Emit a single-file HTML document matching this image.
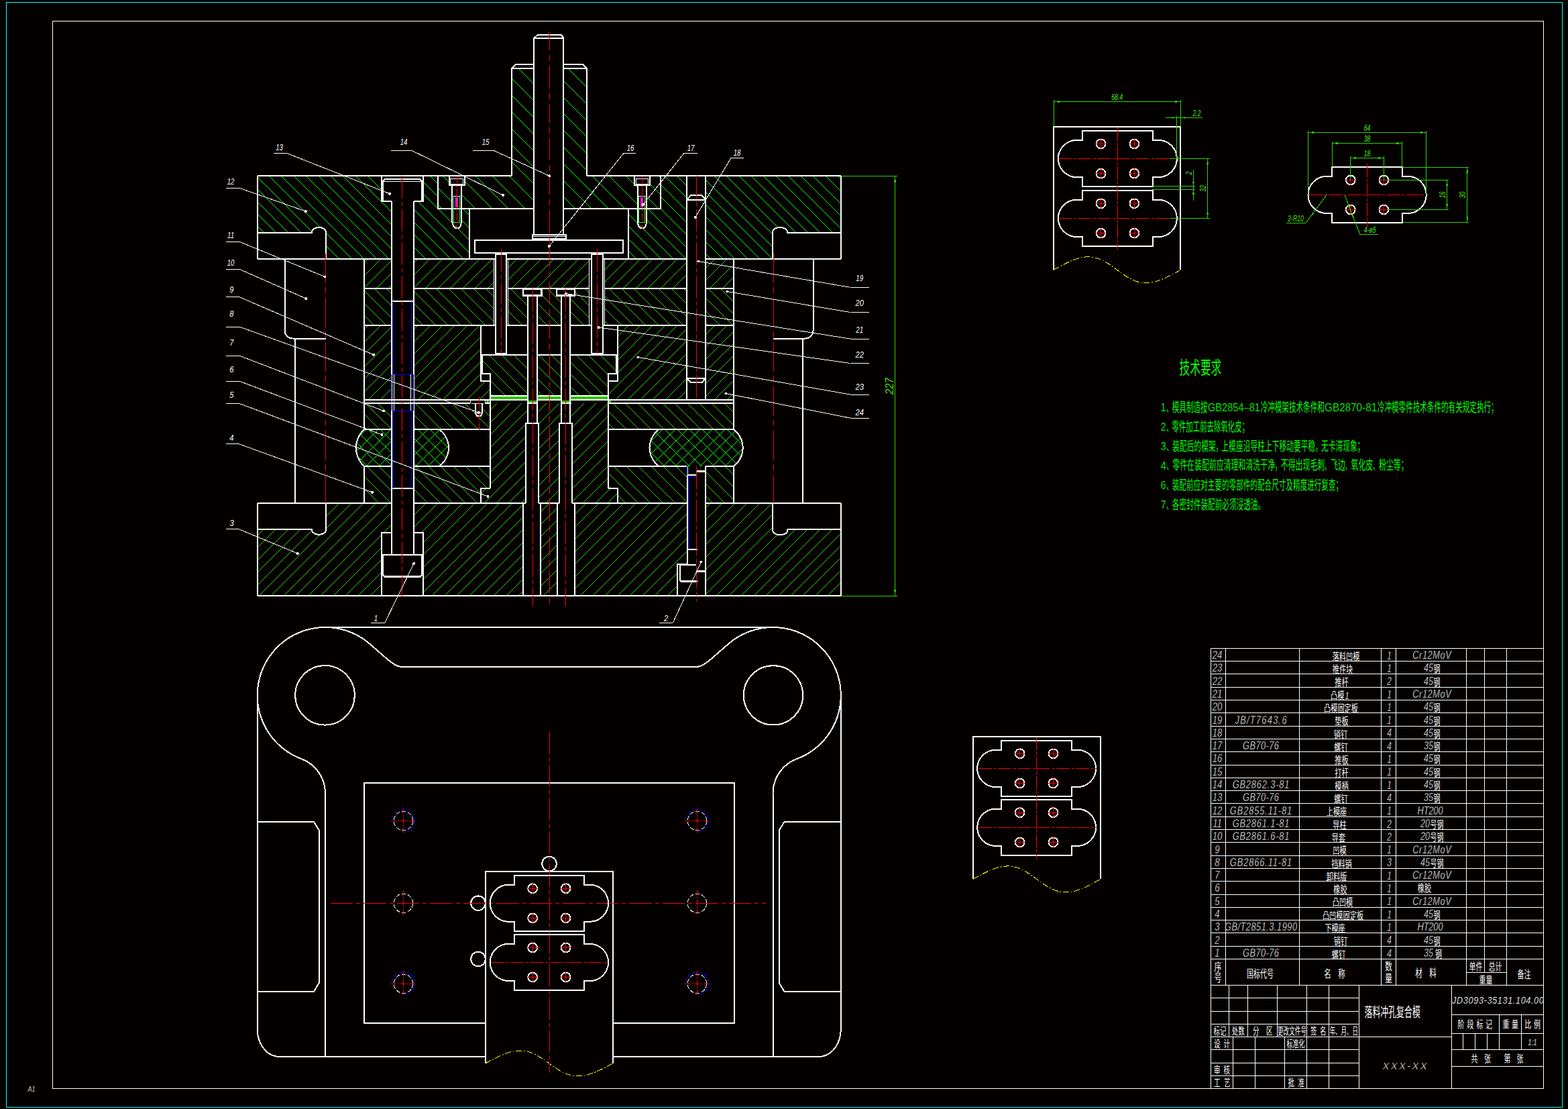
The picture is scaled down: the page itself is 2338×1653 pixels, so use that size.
<!DOCTYPE html>
<html lang="zh"><head><meta charset="utf-8"><title>落料冲孔复合模 装配图</title><style>
html,body{margin:0;padding:0;background:#040000}
svg{display:block}
path,circle{fill:none}
.o{stroke:#fff;stroke-width:2}
.t{stroke:#fff;stroke-width:1}
.p{stroke:#fff;stroke-width:2}
.h{stroke:#35d000;stroke-width:1}
.hg{stroke:#00ff00;stroke-width:1}
.hb{stroke:#00ff00;stroke-width:1}
.g{stroke:#2cff2c;stroke-width:1}
.d{stroke:#35d000;stroke-width:1}
.c{stroke:#ff0000;stroke-width:1}
.b{stroke:#0000ff;stroke-width:1}
.y{stroke:#ffff00;stroke-width:1}
.dot{fill:#fff;stroke:none}
text{font-family:"Liberation Sans","Noto Sans CJK SC",sans-serif;font-style:italic}
.cj{font-style:normal}
.th{stroke:#040000!important;stroke-width:.4px}
.th2{stroke:#040000!important;stroke-width:.2px}
.tx{fill:#fff}
.txg{fill:#44e810}
</style></head>
<body>
<svg xmlns="http://www.w3.org/2000/svg" width="2338" height="1653" viewBox="0 0 2338 1653" shape-rendering="crispEdges">
<rect width="2338" height="1653" fill="#040000"/>
<path d="M9.5 3.5H2329.5V1650.5H9.5Z" style="stroke:#00ffff;stroke-width:1"/>
<path d="M78.5 31.5H2301.5V1622.5H78.5Z" style="stroke:#fff;stroke-width:1"/>
<path class="hg" d="M384 337L394 347M384 319L412 347M384 301L430 347M384 282L449 347M486 384L488 386M384 264L465.28 345.28M486 366L506 386M401.3 262.3L478.27 339.27M486 347L525 386M419.3 262.3L543 386M438.3 262.3L562 386M456.3 262.3L580 386M475.3 262.3L583.75 370.75M493.3 262.3L583.75 352.75M511.3 262.3L583.75 334.75M530.3 262.3L583.75 315.75M548.3 262.3L568.75 282.75M567.3 262.3L568.75 263.75"/>
<path class="hg" d="M616.5 367.5L635 386M616.5 348.5L654 386M616.5 330.5L672 386M616.5 311.5L691 386M623 300L699.7 376.7M630.75 288.75L652.9 310.9M653.1 311.1L674.3 332.3M678 336L699.7 357.7M630.75 270.75L652.9 292.9M671.1 311.1L674.3 314.3M687.9 327.9L699.7 339.7M641.3 262.3L652.9 273.9M690.1 311.1L699.7 320.7"/>
<path class="hg" d="M937 374L949 386M937 356L967 386M937 337L986 386M937 319L950.6 332.6M954 336L1004 386M948.1 311.1L950.6 313.6M964.2 327.2L1023 386M966.1 311.1L1024.25 369.25M985.1 311.1L1024.25 350.25M985.2 293.2L1024.25 332.25M985.2 275.2L1024.25 314.25M991.3 262.3L1024.25 295.25M1009.3 262.3L1024.25 277.25"/>
<path class="hg" d="M1052 378L1060 386M1052 360L1078 386M1052 342L1096 386M1052 323L1115 386M1052 305L1133 386M1052 286L1152 386M1052 268L1152 368M1065.3 262.3L1152 349M1083.3 262.3L1160.25 339.25M1102.3 262.3L1187 347M1120.3 262.3L1205 347M1138.3 262.3L1223 347M1157.3 262.3L1242 347M1175.3 262.3L1253.75 340.75M1194.3 262.3L1253.75 321.75M1212.3 262.3L1253.75 303.75M1231.3 262.3L1253.75 284.75M1249.3 262.3L1253.75 266.75"/>
<path class="hg" d="M652.9 304.9L659.1 311.1M652.9 279.9L674.3 301.3M660.3 262.3L669.9 271.9M687.9 289.9L709.1 311.1M692.6 269.6L734.1 311.1M709.3 262.3L758.1 311.1M734.3 262.3L783.1 311.1M759.3 262.3L796 299M763 241L796 274M763 216L796 249M763 192L796 225M763 167L796 200M763 142L796 175M763 117L796 150M772.8 101.8L796 125"/>
<path class="hg" d="M840.3 293.3L858.1 311.1M840.3 269.3L882.1 311.1M840.3 244.3L907.1 311.1M840.3 219.3L874.6 253.6M883.3 262.3L932.1 311.1M840.3 194.3L874.6 228.6M908.3 262.3L950.6 304.6M840.3 169.3L874.6 203.6M933.3 262.3L946 275M947.2 276.2L950.6 279.6M964.2 293.2L982.1 311.1M840.3 145.3L874.6 179.6M968.8 273.8L985.2 290.2M840.3 120.3L874.6 154.6M982.3 262.3L985.2 265.2M846.8 101.8L874.6 129.6M871.8 101.8L874.6 104.6"/>
<path class="h" d="M543 392L549 386M543 411L568 386M543 429L583.75 388.25M561 430L583.75 407.25M579 430L583.75 425.25M616.5 392.5L623 386M616.5 410.5L641 386M616.5 429.5L660 386M634 430L678 386M653 430L697 386M671 430L715 386M690 430L734 386M708 430L736.5 401.5M727 430L736.5 420.5M757.1 399.9L771 386M757.1 417.9L789 386M763 430L807 386M782 430L826 386M800 430L844 386M819 430L863 386M837 430L878.1 388.9M856 430L878.1 407.9M874 430L878.1 425.9M901.25 402.75L918 386M901.25 420.75L936 386M911 430L955 386M929 430L973 386M948 430L992 386M966 430L1010 386M985 430L1024.25 390.75M1003 430L1024.25 408.75M1022 430L1024.25 427.75M1052 400L1066 386M1052 418L1084 386M1058 430L1094.25 393.75M1077 430L1094.25 412.75"/>
<path class="h" d="M543 470L558 485M543 452L576 485M543 433L583.75 473.75M558 430L583.75 455.75M576 430L583.75 437.75M616.5 470.5L631 485M616.5 451.5L650 485M616.5 433.5L668 485M632 430L687 485M650 430L705 485M669 430L724 485M687 430L736.5 479.5M706 430L736.5 460.5M757.1 481.1L761 485M724 430L736.5 442.5M757.1 463.1L779 485M757.1 445.1L786.9 474.9M761 430L786.9 455.9M800.9 469.9L816 485M800.9 451.9L834 485M808.1 440.1L836.9 468.9M850 482L853 485M816 430L836.9 450.9M850 464L871 485M850 445L878.1 473.1M857.5 434.5L878.1 455.1M901.25 478.25L908 485M872 430L878.1 436.1M901.25 459.25L927 485M901.25 441.25L945 485M908 430L963 485M927 430L982 485M945 430L1000 485M964 430L1019 485M982 430L1024.25 472.25M1001 430L1024.25 453.25M1052 481L1056 485M1019 430L1024.25 435.25M1052 463L1074 485M1052 444L1093 485M1056 430L1094.25 468.25M1074 430L1094.25 450.25M1093 430L1094.25 431.25"/>
<path class="h" d="M543 491L549 485M543 510L568 485M543 528L583.75 487.25M543 547L583.75 506.25M543 565L583.75 524.25M616.5 491.5L623 485M543 584L583.75 543.25M616.5 510.5L642 485M549 596L583.75 561.25M616.5 528.5L660 485M567 596L583.75 579.25M616.5 546.5L678 485M616.5 565.5L697 485M616.5 583.5L715 485M623 596L717 502M641 596L717 520M660 596L717 539M678 596L717 557M696 596L723.6 568.4M715 596L731.25 579.75"/>
<path class="h" d="M921.25 500.75L937 485M921.25 518.75L955 485M921.25 536.75L973 485M906.9 570.1L908.6 568.4M921.25 555.75L992 485M906.9 588.1L1010 485M918 596L1024.25 489.75M936 596L1024.25 507.75M955 596L1024.25 526.75M1052 499L1066 485M973 596L1024.25 544.75M1052 517L1084 485M992 596L1024.25 563.75M1052 536L1094.25 493.75M1010 596L1024.25 581.75M1052 554L1094.25 511.75M1052 572L1094.25 529.75M1052 591L1094.25 548.75M1065 596L1094.25 566.75M1084 596L1094.25 585.75"/>
<path class="h" d="M731.25 586.25L735 590M718.75 554.75L721 557M731.25 567.25L754 590M718.75 536.75L772 590M728.75 528.75L786.9 586.9M747.75 528.75L786.9 567.9M800.9 581.9L809 590M765.75 528.75L786.9 549.9M800.9 563.9L827 590M784.75 528.75L786.9 530.9M800.9 544.9L836.9 580.9M802.75 528.75L836.9 562.9M850 576L864 590M821.75 528.75L836.9 543.9M850 557L883 590M850 539L901 590M858.75 528.75L906.9 576.9M876.75 528.75L906.9 558.9M894.75 528.75L918.75 552.75M913.75 528.75L918.75 533.75"/>
<path class="h" d="M543 636L547 640M543 617L566 640M545 601L583.75 639.75M563 601L583.75 621.75M582 601L583.75 602.75M616.5 635.5L621 640M616.5 617.5L639 640M619 601L658 640M637 601L676 640M656 601L695 640M674 601L713 640M693 601L708.75 616.75M710 618L731.25 639.25M719.4 609.4L731.25 621.25M729 601L731.25 603.25"/>
<path class="h" d="M906.9 630.9L916 640M906.9 612.9L934 640M914 601L953 640M932 601L971 640M951 601L990 640M969 601L1008 640M988 601L1027 640M1006 601L1045 640M1025 601L1064 640M1043 601L1082 640M1061 601L1094.25 634.25M1080 601L1094.25 615.25"/>
<path class="hb" d="M534.86 651.14L546 640M531.42 672.58L564 640M536.36 686.64L583 640M546 695L583.75 657.25M565 695L583.75 676.25M616.5 643.5L620 640M583 695L583.75 694.25M616.5 661.5L638 640M616.5 679.5L655.53 640.47M620 695L664.39 650.61M638 695L668.7 664.3"/>
<path class="hb" d="M533.31 680.31L548 695M531.88 659.88L567 695M537.15 647.15L583.75 693.75M549 640L583.75 674.75M567 640L583.75 656.75M616.5 689.5L622 695M616.5 670.5L641 695M616.5 652.5L657.12 693.12M623 640L665.4 682.4M641 640L668.96 667.96"/>
<path class="hb" d="M970.02 657.98L988 640M970.01 676.99L1007 640M976.19 688.81L1025 640M989 695L1044 640M1007 695L1062 640M1026 695L1081 640M1044 695L1096.54 642.46M1062 695L1104.23 652.77M1081 695L1107.67 668.33"/>
<path class="hb" d="M969.02 673.02L991 695M970.46 656.46L1009 695M977.5 644.5L1028 695M991 640L1046 695M1010 640L1065 695M1028 640L1083 695M1047 640L1098.13 691.13M1065 640L1105.25 680.25M1084 640L1107.36 663.36"/>
<path class="h" d="M543 747L546 750M543 728L565 750M543 710L583 750M547 695L583.75 731.75M565 695L583.75 713.75M616.5 746.5L620 750M583 695L583.75 695.75M616.5 728.5L638 750M616.5 709.5L657 750M620 695L675 750M639 695L694 750M657 695L712 750M676 695L717 736M694 695L726.5 727.5M712 695L731.25 714.25"/>
<path class="h" d="M906.9 723.9L910.5 727.5M921.25 738.25L933 750M906.9 704.9L952 750M915 695L970 750M934 695L989 750M952 695L1007 750M971 695L1024.25 748.25M989 695L1024.25 730.25M1008 695L1024.25 711.25M1052 739L1063 750M1052 721L1081 750M1052 703L1094.25 745.25M1063 695L1094.25 726.25M1081 695L1094.25 708.25"/>
<path class="h" d="M731.25 610.75L741 601M731.25 629.75L760 601M731.25 647.75L778 601M731.25 666.75L786.9 611.1M731.25 684.75L783.75 632.25M785.4 630.6L786.9 629.1M800.9 615.1L815 601M731.25 703.75L783.75 651.25M803.1 631.9L834 601M717 736L725.5 727.5M731.25 721.75L783.75 669.25M803.1 649.9L836.9 616.1M850 603L852 601M722 750L783.75 688.25M803.1 668.9L833.75 638.25M850 622L871 601M740 750L783.75 706.25M803.1 686.9L833.75 656.25M853.1 636.9L889 601M758 750L783.75 724.25M803.1 704.9L833.75 674.25M853.1 654.9L906.9 601.1M777 750L783.75 743.25M803.1 723.9L833.75 693.25M853.1 673.9L906.9 620.1M803.1 741.9L833.75 711.25M853.1 691.9L906.9 638.1M814 750L833.75 730.25M853.1 710.9L906.9 657.1M832 750L833.75 748.25M853.1 728.9L906.9 675.1M853.1 747.9L906.9 694.1M869 750L906.9 712.1M888 750L910.5 727.5M906 750L921.25 734.75"/>
<path class="h" d="M384 798L393.25 788.75M384 816L411.25 788.75M384 835L430.25 788.75M384 853L448.25 788.75M486 751L487 750M384 872L465.32 790.68M486 770L506 750M386 888L477.44 796.56M486 788L524 750M404 888L542 750M423 888L561 750M441 888L579 750M460 888L583.75 764.25M478 888L568.75 797.25M572.25 793.75L583.75 782.25M497 888L568.75 816.25M616.5 768.5L635 750M515 888L568.75 834.25M616.5 786.5L653 750M534 888L568.75 853.25M628.25 793.75L672 750M552 888L568.75 871.25M630.75 809.25L690 750M630.75 827.25L708 750M630.75 846.25L727 750M630.75 864.25L745 750M630.75 883.25L764 750M644 888L780 752M663 888L780 771M681 888L780 789M806.25 762.75L819 750M700 888L780 808M806.25 781.75L830.75 757.25M718 888L780 826M806.25 799.75L830.75 775.25M736 888L780 844M806.25 817.75L830.75 793.25M856.75 767.25L874 750M755 888L780 863M806.25 836.75L830.75 812.25M856.75 786.25L893 750M773 888L780 881M806.25 854.75L830.75 830.25M856.75 804.25L911 750M806.25 873.75L830.75 849.25M856.75 823.25L930 750M810 888L830.75 867.25M856.75 841.25L948 750M829 888L830.75 886.25M856.75 860.25L967 750M856.75 878.25L985 750M865 888L1003 750M884 888L1022 750M902 888L1024.25 765.75M921 888L1024.25 784.75M1052 757L1059 750M939 888L1024.25 802.75M1052 775L1077 750M958 888L1024.25 821.75M1052 794L1096 750M976 888L1010 854M1023.25 840.75L1024.25 839.75M1052 812L1114 750M995 888L1010 873M1052 831L1133 750M1052 849L1151 750M1052 867L1152 767M1052 886L1152 786M1068 888L1159.23 796.77M1087 888L1185.75 789.25M1105 888L1203.75 789.25M1124 888L1222.75 789.25M1142 888L1240.75 789.25M1161 888L1253.75 795.25M1179 888L1253.75 813.25M1197 888L1253.75 831.25M1216 888L1253.75 850.25M1234 888L1253.75 868.25M1253 888L1253.75 887.25"/>
<rect x="731.8" y="590.9" width="54.2" height="3.8" fill="#2fc400"/>
<rect x="801.8" y="590.9" width="34.2" height="3.8" fill="#2fc400"/>
<rect x="851" y="590.9" width="55" height="3.8" fill="#2fc400"/>
<rect x="788" y="597" width="12" height="2.7" fill="#2fc400"/>
<rect x="838" y="597" width="11" height="2.7" fill="#2fc400"/>
<rect x="725" y="597" width="3.8" height="2.7" fill="#2fc400"/><rect x="908.2" y="597" width="2.6" height="2.7" fill="#2fc400"/>
<path class="o" d="M384 262.3L763 262.3"/>
<path class="o" d="M874.6 262.3L1253.75 262.3"/>
<path class="o" d="M384 262.3L384 386"/>
<path class="o" d="M1253.75 262.3L1253.75 386"/>
<path class="o" d="M384 347L465 347L465.51 343.87L467.01 341.77L469.33 340.25L472.26 339.31L475.5 339L478.74 339.31L481.67 340.25L483.99 341.77L485.49 343.87L486 347L486 386"/>
<path class="o" d="M1253.75 347L1174 347L1173.46 343.87L1171.9 341.77L1169.47 340.25L1166.4 339.31L1163 339L1159.6 339.31L1156.53 340.25L1154.1 341.77L1152.54 343.87L1152 347L1152 386"/>
<path class="o" d="M384 386L583.75 386"/>
<path class="o" d="M616.5 386L739.1 386"/>
<path class="o" d="M755 386L881.9 386"/>
<path class="o" d="M898.75 386L1024.25 386"/>
<path class="o" d="M1052 386L1253.75 386"/>
<path class="o" d="M568.75 262.3L568.75 300L583.75 300"/>
<path class="o" d="M630.75 262.3L630.75 300L616.5 300"/>
<path class="o" d="M571.2 300L571.2 270L574.2 267L625.8 267L628.8 270L628.8 300"/>
<path class="t" d="M571.2 270L628.8 270"/>
<path class="o" d="M583.75 300L583.75 827"/>
<path class="o" d="M616.5 300L616.5 827"/>
<path class="o" d="M583.75 448.75L616.5 448.75"/>
<path class="o" d="M583.75 727.5L616.5 727.5"/>
<path class="b" d="M585.6 448.75L585.6 558"/>
<path class="b" d="M585.6 612L585.6 727.5"/>
<path class="b" d="M613.9 448.75L613.9 558"/>
<path class="b" d="M613.9 612L613.9 727.5"/>
<path class="b" d="M583.75 558L583.75 612"/>
<path class="b" d="M616.5 558L616.5 612"/>
<path class="b" d="M585 558L614.5 558"/>
<path class="b" d="M585 612L614.5 612"/>
<path class="t" d="M587 558L587 612"/>
<path class="t" d="M612.6 558L612.6 612"/>
<path class="o" d="M583.75 793.75L568.75 793.75L568.75 888"/>
<path class="o" d="M616.5 793.75L630.75 793.75L630.75 888"/>
<path class="o" d="M571.2 827L571.2 857L574.2 860L625.8 860L628.8 857L628.8 827Z"/>
<path class="t" d="M572 858.6L628 858.6"/>
<path class="o" d="M763 262.3L763 101.8L768.8 96L796 96"/>
<path class="o" d="M763 101.8L796 101.8"/>
<path class="o" d="M874.6 262.3L874.6 101.8L869.4 96L840.3 96"/>
<path class="o" d="M840.3 101.8L874.6 101.8"/>
<path class="o" d="M796 349.75L796 57L801.8 52L837 52L840.3 57L840.3 349.75"/>
<path class="o" d="M796 57L840.3 57"/>
<path class="o" d="M793.75 349.75L844 349.75L844 355.8L793.75 355.8Z"/>
<path class="t" d="M793.75 352.2L844 352.2"/>
<path class="o" d="M707.9 358.4L929.4 358.4L929.4 376.9L707.9 376.9Z"/>
<path class="o" d="M652.9 262.3L652.9 311.1L796 311.1"/>
<path class="o" d="M985.2 262.3L985.2 311.1L840.3 311.1"/>
<path class="o" d="M699.7 311.1L699.7 386"/>
<path class="o" d="M937 311.1L937 386"/>
<path class="o" d="M669.9 262.3L692.7 262.3L692.7 276.2L669.9 276.2Z"/>
<path class="t" d="M671.9 266L690.7 266L690.7 274.8L671.9 274.8Z"/>
<path class="o" d="M674.4 276.2L674.4 331L676.3 337.5L678.8 340L683.8 340L686.3 337.5L688.2 331L688.2 276.2"/>
<path class="g" d="M676.7 292.7L676.7 331"/>
<path class="g" d="M685.7 292.7L685.7 331"/>
<path class="g" d="M676.3 331.5L686.3 331.5"/>
<path class="t" d="M676.3 292.7L686.3 292.7"/>
<rect x="679.1" y="293.5" width="3.6" height="15" fill="#ff18ff"/>
<path class="c" stroke-dasharray="12 2 2 2" d="M681.3 262.5L681.3 341"/>
<path class="o" d="M946 262.3L968.8 262.3L968.8 276.2L946 276.2Z"/>
<path class="t" d="M948 266L966.8 266L966.8 274.8L948 274.8Z"/>
<path class="o" d="M950.5 276.2L950.5 331L952.4 337.5L954.9 340L959.9 340L962.4 337.5L964.3 331L964.3 276.2"/>
<path class="g" d="M952.8 292.7L952.8 331"/>
<path class="g" d="M961.8 292.7L961.8 331"/>
<path class="g" d="M952.4 331.5L962.4 331.5"/>
<path class="t" d="M952.4 292.7L962.4 292.7"/>
<rect x="955.2" y="293.5" width="3.6" height="15" fill="#ff18ff"/>
<path class="c" stroke-dasharray="12 2 2 2" d="M957.4 262.5L957.4 341"/>
<path class="o" d="M543 386L543 640"/>
<path class="o" d="M543 695L543 750"/>
<path class="o" d="M1094.25 386L1094.25 640"/>
<path class="o" d="M1094.25 695L1094.25 750"/>
<path class="o" d="M543 430L583.75 430"/>
<path class="o" d="M616.5 430L736.5 430"/>
<path class="o" d="M757.1 430L878.1 430"/>
<path class="o" d="M901.25 430L1024.25 430"/>
<path class="o" d="M1052 430L1094.25 430"/>
<path class="o" d="M543 485L583.75 485"/>
<path class="o" d="M616.5 485L739.1 485"/>
<path class="o" d="M755 485L786.9 485"/>
<path class="o" d="M800.9 485L836.9 485"/>
<path class="o" d="M850 485L881.9 485"/>
<path class="o" d="M898.75 485L1024.25 485"/>
<path class="o" d="M1052 485L1094.25 485"/>
<path class="t" d="M736.5 386L736.5 485"/>
<path class="t" d="M757.1 386L757.1 485"/>
<path class="o" d="M739.1 377L739.1 527"/>
<path class="o" d="M755 377L755 527"/>
<path class="o" style="stroke-width:2.6" d="M737.9 378.6H756.2 M737.9 527H756.2"/>
<path class="t" d="M878.1 386L878.1 485"/>
<path class="t" d="M901.25 386L901.25 485"/>
<path class="o" d="M881.9 377L881.9 527"/>
<path class="o" d="M898.75 377L898.75 527"/>
<path class="o" style="stroke-width:2.6" d="M880.7 378.6H899.95 M880.7 527H899.95"/>
<path class="o" style="stroke-width:2.4" d="M780 430.6H807.5V440.6H780Z"/>
<path class="o" d="M786.9 440.6L786.9 630.6"/>
<path class="o" d="M800.9 440.6L800.9 630.6"/>
<path class="o" d="M786.4 600.8L802.4 600.8"/>
<path class="o" d="M783.75 750L783.75 630.6L803.1 630.6L803.1 750"/>
<path class="o" d="M780 750L780 888"/>
<path class="o" d="M806.25 750L806.25 888"/>
<path class="o" style="stroke-width:2.4" d="M830.2 430.6H856.9V440.6H830.2Z"/>
<path class="o" d="M836.9 440.6L836.9 630.6"/>
<path class="o" d="M850 440.6L850 630.6"/>
<path class="o" d="M836.4 600.8L851.5 600.8"/>
<path class="o" d="M833.75 750L833.75 630.6L853.1 630.6L853.1 750"/>
<path class="o" d="M830.75 750L830.75 888"/>
<path class="o" d="M856.75 750L856.75 888"/>
<path class="o" d="M717 485L717 568.4L731.25 568.4"/>
<path class="o" d="M921.25 485L921.25 568.4L906.9 568.4"/>
<path class="o" d="M731.25 590L731.25 557L718.75 557L718.75 528.75L786.9 528.75"/>
<path class="o" d="M906.9 590L906.9 557L918.75 557L918.75 528.75L850 528.75"/>
<path class="o" d="M800.9 528.75L836.9 528.75"/>
<path class="o" d="M731.25 590L786.9 590"/>
<path class="o" d="M800.9 590L836.9 590"/>
<path class="o" d="M850 590L906.9 590"/>
<path class="t" d="M717 557L731.25 557"/>
<path class="t" d="M906.9 557L921.25 557"/>
<path class="o" d="M731.25 568.4L731.25 727.5"/>
<path class="o" d="M906.9 568.4L906.9 727.5"/>
<path class="o" d="M731.25 727.5L717 727.5L717 750"/>
<path class="o" d="M906.9 727.5L921.25 727.5L921.25 750"/>
<path class="o" d="M543 596L786.9 596"/>
<path class="o" d="M800.9 596L836.9 596"/>
<path class="o" d="M850 596L1094.25 596"/>
<path class="o" d="M543 601L701 601"/>
<path class="o" d="M723 601L731.25 601"/>
<path class="o" d="M908 601L1094.25 601"/>
<path class="t" d="M701 596L701 601"/>
<path class="t" d="M723 596L723 601"/>
<path class="t" d="M703 601L721 601"/>
<path class="o" d="M543 640L583.75 640"/>
<path class="o" d="M616.5 640L731.25 640"/>
<path class="o" d="M906.9 640L1094.25 640"/>
<path class="o" d="M543 695L583.75 695"/>
<path class="o" d="M616.5 695L731.25 695"/>
<path class="o" d="M906.9 695L1024.25 695"/>
<path class="o" d="M1052 695L1094.25 695"/>
<path class="o" d="M543 695L538.84 690.45L535.48 685.28L533.01 679.63L531.51 673.65L531 667.5L531.51 661.35L533.01 655.37L535.48 649.72L538.84 644.55L543 640"/>
<path class="o" d="M655 640L659.8 644.23L663.71 649.29L666.62 654.99L668.4 661.13L669 667.5L668.4 673.87L666.62 680.01L663.71 685.71L659.8 690.77L655 695"/>
<path class="o" d="M982.5 695L977.7 690.77L973.79 685.71L970.88 680.01L969.1 673.87L968.5 667.5L969.1 661.13L970.88 654.99L973.79 649.29L977.7 644.23L982.5 640"/>
<path class="o" d="M1093.75 640L1098.55 644.23L1102.46 649.29L1105.37 654.99L1107.15 661.13L1107.75 667.5L1107.15 673.87L1105.37 680.01L1102.46 685.71L1098.55 690.77L1093.75 695"/>
<path class="o" d="M708.75 601L708.75 615.5L711 619.5L717 619.5L719.4 615.5L719.4 601"/>
<path class="t" d="M708.75 615.5L719.4 615.5"/>
<path class="c" stroke-dasharray="14 2 2 2" d="M714.2 591L714.2 640.6"/>
<path class="o" d="M384 750L583.75 750"/>
<path class="o" d="M616.5 750L783.75 750"/>
<path class="o" d="M803.1 750L833.75 750"/>
<path class="o" d="M853.1 750L1024.25 750"/>
<path class="o" d="M1052 750L1253.75 750"/>
<path class="o" d="M384 750L384 888"/>
<path class="o" d="M1253.75 750L1253.75 888"/>
<path class="o" d="M384 888L1253.75 888"/>
<path class="o" d="M384 788.75L465 788.75L465.51 791.88L467.01 793.98L469.33 795.5L472.26 796.44L475.5 796.75L478.74 796.44L481.67 795.5L483.99 793.98L485.49 791.88L486 788.75L486 750"/>
<path class="o" d="M1253.75 789.25L1174.5 789.25L1173.95 792.38L1172.35 794.48L1169.86 796L1166.73 796.94L1163.25 797.25L1159.77 796.94L1156.64 796L1154.15 794.48L1152.55 792.38L1152 789.25L1152 750"/>
<path class="o" d="M424.5 386V492.5A12 12 0 0 0 436.5 504.5H486.3"/>
<path class="o" d="M440 504.5L440 750"/>
<path class="o" d="M1212.5 386V492.5A12 12 0 0 1 1200.5 504.5H1153.2"/>
<path class="o" d="M1196.75 504.5L1196.75 750"/>
<path class="o" d="M1024.25 262.3L1024.25 596"/>
<path class="o" d="M1052 262.3L1052 596"/>
<path class="o" d="M1024.25 297.5L1030 291.3L1046.3 291.3L1052 297.5"/>
<path class="o" d="M1024.25 297.5L1052 297.5"/>
<path class="o" d="M1024.25 563.75L1029.5 570L1046.8 570L1052 563.75"/>
<path class="o" d="M1024.25 563.75L1052 563.75"/>
<path class="o" d="M1024.5 695L1024.5 840.75"/>
<path class="o" d="M1052 695L1052 888"/>
<path class="b" d="M1026.3 710L1026.3 817.5"/>
<path class="b" d="M1024.5 710.3L1038.3 710.3"/>
<path class="b" d="M1024.5 695L1024.5 708"/>
<path class="o" d="M1024.5 707.5L1038.3 707.5"/>
<path class="o" d="M1024.5 819.3L1039.5 819.3"/>
<path class="o" d="M1024.5 840.75L1010 840.75L1010 888"/>
<path class="o" d="M1038.3 841.5L1013.8 841.5L1013.8 864.5L1016.5 867.2L1039.5 867.2"/>
<path class="o" style="stroke-width:2.8" d="M1016 866.8H1039.5M1038.3 702.5H1052M1038.3 851.3H1052"/>
<path class="c" stroke-dasharray="33.5 5 6 5" d="M599.6 262L599.6 894"/>
<path class="c" stroke-dasharray="44 6.5 9 6.5" d="M485.5 377.5L485.5 750"/>
<path class="c" stroke-dasharray="44 6.5 9 6.5" d="M1153.25 377.5L1153.25 750"/>
<path class="c" stroke-dasharray="28 7 9 7 33.5 7 9 7" d="M819.4 47L819.4 904"/>
<path class="c" stroke-dasharray="33.5 5 6 5" d="M794.4 430L794.4 904"/>
<path class="c" stroke-dasharray="33.5 5 6 5" d="M843.5 430L843.5 904"/>
<path class="c" stroke-dasharray="33.5 5 6 5" d="M747.5 371L747.5 527"/>
<path class="c" stroke-dasharray="33.5 5 6 5" d="M890.6 371L890.6 527"/>
<path class="c" stroke-dasharray="33.5 5 6 5" d="M1038.25 262L1038.25 596"/>
<path class="c" stroke-dasharray="33.5 5 6 5" d="M1038.25 695L1038.25 896.5"/>
<text class="tx" font-size="13" text-anchor="middle" transform="translate(416.5 223.8) scale(.74 1)">13</text>
<path class="t" d="M408 228.3L427.5 228.3"/>
<path class="t" d="M427.5 228.3L581 288.8"/>
<circle class="dot" cx="581" cy="288.8" r="2"/>
<text class="tx" font-size="13" text-anchor="middle" transform="translate(602 216) scale(.74 1)">14</text>
<path class="t" d="M583 224.3L613.8 224.3"/>
<path class="t" d="M613.8 224.3L750 290.8"/>
<circle class="dot" cx="750" cy="290.8" r="2"/>
<text class="tx" font-size="13" text-anchor="middle" transform="translate(724 216) scale(.74 1)">15</text>
<path class="t" d="M705 224.3L736 224.3"/>
<path class="t" d="M736 224.3L819.2 262.2"/>
<circle class="dot" cx="819.2" cy="262.2" r="2"/>
<text class="tx" font-size="13" text-anchor="middle" transform="translate(940 224.5) scale(.74 1)">16</text>
<path class="t" d="M930 228.3L947.5 228.3"/>
<path class="t" d="M930 228.3L818.8 367"/>
<circle class="dot" cx="818.8" cy="367" r="2"/>
<text class="tx" font-size="13" text-anchor="middle" transform="translate(1030 224.5) scale(.74 1)">17</text>
<path class="t" d="M1020 228.3L1040 228.3"/>
<path class="t" d="M1020 228.3L958.8 305"/>
<circle class="dot" cx="958.8" cy="305" r="2"/>
<text class="tx" font-size="13" text-anchor="middle" transform="translate(1099 231.5) scale(.74 1)">18</text>
<path class="t" d="M1090 235.5L1108.8 235.5"/>
<path class="t" d="M1090 235.5L1036.8 323.8"/>
<circle class="dot" cx="1036.8" cy="323.8" r="2"/>
<text class="tx" font-size="13" text-anchor="middle" transform="translate(344 274.8) scale(.74 1)">12</text>
<path class="t" d="M337 280.3L357 280.3"/>
<path class="t" d="M357 280.3L455.8 315"/>
<circle class="dot" cx="455.8" cy="315" r="2"/>
<text class="tx" font-size="13" text-anchor="middle" transform="translate(344 354.8) scale(.74 1)">11</text>
<path class="t" d="M337 360.3L357 360.3"/>
<path class="t" d="M357 360.3L484.3 412.5"/>
<circle class="dot" cx="484.3" cy="412.5" r="2"/>
<text class="tx" font-size="13" text-anchor="middle" transform="translate(344 395.7) scale(.74 1)">10</text>
<path class="t" d="M337 401.3L357 401.3"/>
<path class="t" d="M357 401.3L456.3 445"/>
<circle class="dot" cx="456.3" cy="445" r="2"/>
<text class="tx" font-size="13" text-anchor="middle" transform="translate(345.3 435.9) scale(.86 1)">9</text>
<path class="t" d="M337 442.5L356.5 442.5"/>
<path class="t" d="M356.5 442.5L557 528.8"/>
<circle class="dot" cx="557" cy="528.8" r="2"/>
<text class="tx" font-size="13" text-anchor="middle" transform="translate(345.3 471.5) scale(.86 1)">8</text>
<path class="t" d="M337 487L356.5 487"/>
<path class="t" d="M356.5 487L713.8 615"/>
<circle class="dot" cx="713.8" cy="615" r="2"/>
<text class="tx" font-size="13" text-anchor="middle" transform="translate(345.3 515.4) scale(.86 1)">7</text>
<path class="t" d="M337 530L356.5 530"/>
<path class="t" d="M356.5 530L572 612.5"/>
<circle class="dot" cx="572" cy="612.5" r="2"/>
<text class="tx" font-size="13" text-anchor="middle" transform="translate(345.3 554.5) scale(.86 1)">6</text>
<path class="t" d="M337 568L356.5 568"/>
<path class="t" d="M356.5 568L569.5 648"/>
<circle class="dot" cx="569.5" cy="648" r="2"/>
<text class="tx" font-size="13" text-anchor="middle" transform="translate(345.3 593.4) scale(.86 1)">5</text>
<path class="t" d="M337 601.3L356.5 601.3"/>
<path class="t" d="M356.5 601.3L727.5 740"/>
<circle class="dot" cx="727.5" cy="740" r="2"/>
<text class="tx" font-size="13" text-anchor="middle" transform="translate(345.3 656.8) scale(.86 1)">4</text>
<path class="t" d="M337 661.8L356.5 661.8"/>
<path class="t" d="M356.5 661.8L555 733.8"/>
<circle class="dot" cx="555" cy="733.8" r="2"/>
<text class="tx" font-size="13" text-anchor="middle" transform="translate(345.5 783.6) scale(.86 1)">3</text>
<path class="t" d="M337 788.8L356.3 788.8"/>
<path class="t" d="M356.3 788.8L443.8 825"/>
<circle class="dot" cx="443.8" cy="825" r="2"/>
<text class="tx" font-size="13" text-anchor="middle" transform="translate(560.5 926) scale(.74 1)">1</text>
<path class="t" d="M553.3 928.3L573.8 928.3"/>
<path class="t" d="M573.8 928.3L617 840"/>
<circle class="dot" cx="617" cy="840" r="2"/>
<text class="tx" font-size="13" text-anchor="middle" transform="translate(993 926) scale(.86 1)">2</text>
<path class="t" d="M983.3 928.3L1003.3 928.3"/>
<path class="t" d="M1003.3 928.3L1045.5 837.5"/>
<circle class="dot" cx="1045.5" cy="837.5" r="2"/>
<text class="tx" font-size="13" text-anchor="middle" transform="translate(1281.7 418.5) scale(.74 1)">19</text>
<path class="t" d="M1267.5 428.3L1296.3 428.3"/>
<path class="t" d="M1267.5 428.3L1041.3 389.5"/>
<circle class="dot" cx="1041.3" cy="389.5" r="2"/>
<text class="tx" font-size="13" text-anchor="middle" transform="translate(1281.7 455.7) scale(.86 1)">20</text>
<path class="t" d="M1267.5 465.5L1296.3 465.5"/>
<path class="t" d="M1267.5 465.5L1084.3 434.5"/>
<circle class="dot" cx="1084.3" cy="434.5" r="2"/>
<text class="tx" font-size="13" text-anchor="middle" transform="translate(1281.7 495.8) scale(.74 1)">21</text>
<path class="t" d="M1267.5 505L1296.3 505"/>
<path class="t" d="M1267.5 505L843.8 437.5"/>
<circle class="dot" cx="843.8" cy="437.5" r="2"/>
<text class="tx" font-size="13" text-anchor="middle" transform="translate(1281.7 532.8) scale(.86 1)">22</text>
<path class="t" d="M1267.5 541.5L1296.3 541.5"/>
<path class="t" d="M1267.5 541.5L892.5 488"/>
<circle class="dot" cx="892.5" cy="488" r="2"/>
<text class="tx" font-size="13" text-anchor="middle" transform="translate(1281.7 580.7) scale(.86 1)">23</text>
<path class="t" d="M1267.5 588L1296.3 588"/>
<path class="t" d="M1267.5 588L951.3 532.5"/>
<circle class="dot" cx="951.3" cy="532.5" r="2"/>
<text class="tx" font-size="13" text-anchor="middle" transform="translate(1281.7 618.5) scale(.86 1)">24</text>
<path class="t" d="M1267.5 623L1296.3 623"/>
<path class="t" d="M1267.5 623L1082.5 586.5"/>
<circle class="dot" cx="1082.5" cy="586.5" r="2"/>
<path class="d" d="M1253.75 262.3L1338 262.3"/>
<path class="d" d="M1253.75 888L1338 888"/>
<path class="d" d="M1334.5 262.3L1334.5 888"/>
<path style="fill:#2fc400" d="M1334.5 262.5l-1.6 9h3.2zM1334.5 887.8l-1.6-9h3.2z"/>
<text class="txg" font-size="16.5" text-anchor="middle" transform="translate(1332 575.5) rotate(-90) scale(.9 1)">227</text>
<path class="p" d="M598 993.75L596.21 993.59L594.23 993.1L592.07 992.29L589.73 991.16L587.2 989.71L584.48 987.93L581.58 985.83L578.5 983.4L549.43 958.13L543.62 953.68L537.5 949.66L531.1 946.1L524.46 943L517.61 940.39L510.6 938.29L503.45 936.69L496.2 935.62L488.9 935.08L481.58 935.06L474.27 935.57L467.02 936.61L459.86 938.17L452.84 940.24L445.98 942.82L439.33 945.88L432.91 949.42L426.77 953.41L420.93 957.83L415.43 962.67L410.29 967.89L405.54 973.46L401.21 979.37L397.32 985.57L393.88 992.04L390.92 998.74L388.45 1005.64L386.49 1012.69L385.04 1019.88L384.11 1027.14L383.72 1034.45L383.85 1041.78L384.51 1049.07L385.69 1056.3L387.4 1063.42L389.61 1070.41L392.33 1077.21L395.53 1083.8L399.19 1090.14L403.31 1096.2L407.85 1101.95L412.79 1107.35L418.12 1112.38L423.79 1117.02L429.78 1121.23L436.06 1125L442.6 1128.3L449.36 1131.12L454.52 1133.36L459.35 1136.07L463.88 1139.25L468.07 1142.87L471.87 1146.89L475.24 1151.28L478.16 1155.98L480.59 1160.95L482.5 1166.14L483.89 1171.5L484.72 1176.97L485 1182.5L485 1575"/>
<path class="p" d="M1039.5 993.75L1041.29 993.59L1043.27 993.1L1045.43 992.29L1047.78 991.16L1050.3 989.71L1053.02 987.93L1055.92 985.83L1059 983.4L1088.07 958.13L1093.88 953.68L1100 949.66L1106.4 946.1L1113.04 943L1119.89 940.39L1126.9 938.29L1134.05 936.69L1141.3 935.62L1148.6 935.08L1155.92 935.06L1163.23 935.57L1170.48 936.61L1177.64 938.17L1184.66 940.24L1191.52 942.82L1198.17 945.88L1204.59 949.42L1210.73 953.41L1216.57 957.83L1222.07 962.67L1227.21 967.89L1231.96 973.46L1236.29 979.37L1240.18 985.57L1243.62 992.04L1246.58 998.74L1249.05 1005.64L1251.01 1012.69L1252.46 1019.88L1253.39 1027.14L1253.78 1034.45L1253.65 1041.78L1252.99 1049.07L1251.81 1056.3L1250.1 1063.42L1247.89 1070.41L1245.17 1077.21L1241.97 1083.8L1238.31 1090.14L1234.19 1096.2L1229.65 1101.95L1224.71 1107.35L1219.38 1112.38L1213.71 1117.02L1207.72 1121.23L1201.44 1125L1194.9 1128.3L1188.14 1131.12L1182.98 1133.36L1178.15 1136.07L1173.62 1139.25L1169.43 1142.87L1165.63 1146.89L1162.26 1151.28L1159.34 1155.98L1156.91 1160.95L1155 1166.14L1153.61 1171.5L1152.78 1176.97L1152.5 1182.5L1152.5 1575"/>
<path class="p" d="M598 993.75L1039.5 993.75"/>
<path class="p" d="M485 935L1152.5 935"/>
<path class="p" d="M383.7 1036.3L383.7 1534L384.19 1541.12L385.66 1548.02L388.05 1554.5L391.3 1560.35L395.31 1565.41L399.95 1569.51L405.08 1572.53L410.56 1574.38L416.2 1575L723.75 1575"/>
<path class="p" d="M1253.8 1036.3L1253.8 1534L1253.31 1541.12L1251.84 1548.02L1249.45 1554.5L1246.2 1560.35L1242.19 1565.41L1237.55 1569.51L1232.42 1572.53L1226.94 1574.38L1221.3 1575L913.75 1575"/>
<circle class="p" cx="484.5" cy="1036.3" r="44.3"/>
<circle class="p" cx="1153" cy="1036.3" r="44.2"/>
<path class="p" d="M383.7 1225L468 1225L475.75 1237.5L475.75 1465L468 1478L383.7 1478"/>
<path class="p" d="M1253.8 1225L1169.5 1225L1161.75 1237.5L1161.75 1465L1169.5 1478L1253.8 1478"/>
<path class="p" d="M723.75 1525L543.25 1525L543.25 1167L1094.5 1167L1094.5 1525L913.75 1525"/>
<path class="p" d="M723.75 1585L723.75 1299L913.75 1299L913.75 1585"/>
<path class="y" stroke-dasharray="9 3 1.5 3" d="M723.75 1585L728.5 1582.45L733.25 1579.94L738 1577.5L742.75 1575.18L747.5 1573.01L752.25 1571.04L757 1569.32L761.75 1567.9L766.5 1566.85L771.25 1566.2L776 1566L780.75 1566.3L785.5 1567.1L790.25 1568.43L795 1570.26L799.75 1572.57L804.5 1575.28L809.25 1578.33L814 1581.6L818.75 1585L823.5 1588.4L828.25 1591.67L833 1594.72L837.75 1597.43L842.5 1599.74L847.25 1601.57L852 1602.9L856.75 1603.7L861.5 1604L866.25 1603.8L871 1603.15L875.75 1602.1L880.5 1600.68L885.25 1598.96L890 1596.99L894.75 1594.82L899.5 1592.5L904.25 1590.06L909 1587.55L913.75 1585"/>
<circle class="p" cx="713" cy="1346.25" r="10.8"/>
<circle class="p" cx="713" cy="1429.5" r="10.8"/>
<circle class="p" cx="819" cy="1287.5" r="10.8"/>
<circle class="t" stroke-dasharray="6.5 2.6" cx="601.5" cy="1223.5" r="14.2"/>
<path class="b" stroke-dasharray="6 2.5" d="M584.56 1220.51L585.38 1217.5L586.73 1214.68L588.57 1212.16L590.83 1210.01L593.45 1208.3L596.33 1207.1L599.38 1206.43L602.5 1206.33L605.59 1206.79L608.54 1207.81L611.26 1209.34L613.66 1211.34L615.66 1213.74L617.19 1216.46L618.21 1219.41L618.67 1222.5L618.57 1225.62L617.9 1228.67L616.7 1231.55L614.99 1234.17L612.84 1236.43L610.32 1238.27L607.5 1239.62L604.49 1240.44"/>
<path class="c" stroke-dasharray="8 2 2 2" d="M582.5 1223.5H620.5M601.5 1204.5V1242.5"/>
<circle class="t" stroke-dasharray="6.5 2.6" cx="601.5" cy="1466.25" r="14.2"/>
<path class="b" stroke-dasharray="6 2.5" d="M584.56 1463.26L585.38 1460.25L586.73 1457.43L588.57 1454.91L590.83 1452.76L593.45 1451.05L596.33 1449.85L599.38 1449.18L602.5 1449.08L605.59 1449.54L608.54 1450.56L611.26 1452.09L613.66 1454.09L615.66 1456.49L617.19 1459.21L618.21 1462.16L618.67 1465.25L618.57 1468.37L617.9 1471.42L616.7 1474.3L614.99 1476.92L612.84 1479.18L610.32 1481.02L607.5 1482.37L604.49 1483.19"/>
<path class="c" stroke-dasharray="8 2 2 2" d="M582.5 1466.25H620.5M601.5 1447.25V1485.25"/>
<circle class="t" stroke-dasharray="6.5 2.6" cx="601.5" cy="1346.25" r="14.2"/>
<path class="c" stroke-dasharray="8 2 2 2" d="M601.5 1327.25V1365.25"/>
<circle class="t" stroke-dasharray="6.5 2.6" cx="1039.5" cy="1223.5" r="14.2"/>
<path class="b" stroke-dasharray="6 2.5" d="M1022.56 1220.51L1023.38 1217.5L1024.73 1214.68L1026.57 1212.16L1028.83 1210.01L1031.45 1208.3L1034.33 1207.1L1037.38 1206.43L1040.5 1206.33L1043.59 1206.79L1046.54 1207.81L1049.26 1209.34L1051.66 1211.34L1053.66 1213.74L1055.19 1216.46L1056.21 1219.41L1056.67 1222.5L1056.57 1225.62L1055.9 1228.67L1054.7 1231.55L1052.99 1234.17L1050.84 1236.43L1048.32 1238.27L1045.5 1239.62L1042.49 1240.44"/>
<path class="c" stroke-dasharray="8 2 2 2" d="M1020.5 1223.5H1058.5M1039.5 1204.5V1242.5"/>
<circle class="t" stroke-dasharray="6.5 2.6" cx="1039.5" cy="1466.25" r="14.2"/>
<path class="b" stroke-dasharray="6 2.5" d="M1022.56 1463.26L1023.38 1460.25L1024.73 1457.43L1026.57 1454.91L1028.83 1452.76L1031.45 1451.05L1034.33 1449.85L1037.38 1449.18L1040.5 1449.08L1043.59 1449.54L1046.54 1450.56L1049.26 1452.09L1051.66 1454.09L1053.66 1456.49L1055.19 1459.21L1056.21 1462.16L1056.67 1465.25L1056.57 1468.37L1055.9 1471.42L1054.7 1474.3L1052.99 1476.92L1050.84 1479.18L1048.32 1481.02L1045.5 1482.37L1042.49 1483.19"/>
<path class="c" stroke-dasharray="8 2 2 2" d="M1020.5 1466.25H1058.5M1039.5 1447.25V1485.25"/>
<circle class="t" stroke-dasharray="6.5 2.6" cx="1039.5" cy="1346.25" r="14.2"/>
<path class="c" stroke-dasharray="8 2 2 2" d="M1039.5 1327.25V1365.25"/>
<path class="c" stroke-dasharray="33.5 5 6 5" d="M492.5 1346.25L1142 1346.25"/>
<path class="c" stroke-dasharray="33.5 5 6 5" d="M819.25 1090L819.25 1599"/>
<path class="c" stroke-dasharray="20 2.5 4 2.5" d="M732 1434.5L907 1434.5"/>
<path class="p" d="M766.57 1304.94H871.23V1318.71H879.49A27.54 27.54 0 0 1 879.49 1373.79H871.23V1387.56H766.57V1373.79H758.31A27.54 27.54 0 0 1 758.31 1318.71H766.57Z"/>
<circle class="p" cx="794.11" cy="1324.22" r="6.88"/>
<path class="c" d="M785.58 1324.22H802.65M794.11 1315.68V1332.76"/>
<circle class="p" cx="794.11" cy="1368.28" r="6.88"/>
<path class="c" d="M785.58 1368.28H802.65M794.11 1359.74V1376.82"/>
<circle class="p" cx="843.69" cy="1324.22" r="6.88"/>
<path class="c" d="M835.15 1324.22H852.22M843.69 1315.68V1332.76"/>
<circle class="p" cx="843.69" cy="1368.28" r="6.88"/>
<path class="c" d="M835.15 1368.28H852.22M843.69 1359.74V1376.82"/>
<path class="p" d="M766.57 1393.19H871.23V1406.96H879.49A27.54 27.54 0 0 1 879.49 1462.04H871.23V1475.81H766.57V1462.04H758.31A27.54 27.54 0 0 1 758.31 1406.96H766.57Z"/>
<circle class="p" cx="794.11" cy="1412.47" r="6.88"/>
<path class="c" d="M785.58 1412.47H802.65M794.11 1403.93V1421.01"/>
<circle class="p" cx="794.11" cy="1456.53" r="6.88"/>
<path class="c" d="M785.58 1456.53H802.65M794.11 1447.99V1465.07"/>
<circle class="p" cx="843.69" cy="1412.47" r="6.88"/>
<path class="c" d="M835.15 1412.47H852.22M843.69 1403.93V1421.01"/>
<circle class="p" cx="843.69" cy="1456.53" r="6.88"/>
<path class="c" d="M835.15 1456.53H852.22M843.69 1447.99V1465.07"/>
<path class="o" d="M1571 402.3L1571 189L1760.4 189L1760.4 402.3"/>
<path class="y" stroke-dasharray="9 3 1.5 3" d="M1571 402.3L1575.73 399.69L1580.47 397.11L1585.2 394.61L1589.94 392.22L1594.67 389.99L1599.41 387.97L1604.14 386.21L1608.88 384.75L1613.62 383.67L1618.35 383L1623.09 382.8L1627.82 383.1L1632.56 383.93L1637.29 385.29L1642.03 387.18L1646.76 389.54L1651.5 392.33L1656.23 395.45L1660.97 398.81L1665.7 402.3L1670.43 405.79L1675.17 409.15L1679.9 412.27L1684.64 415.06L1689.38 417.42L1694.11 419.31L1698.85 420.67L1703.58 421.5L1708.32 421.8L1713.05 421.6L1717.79 420.93L1722.52 419.85L1727.26 418.39L1731.99 416.63L1736.73 414.61L1741.46 412.38L1746.2 409.99L1750.93 407.49L1755.66 404.91L1760.4 402.3"/>
<path class="o" d="M1613.87 195.03H1718.94V208.85H1727.23A27.65 27.65 0 0 1 1727.23 264.15H1718.94V277.98H1613.87V264.15H1605.57A27.65 27.65 0 0 1 1605.57 208.85H1613.87Z"/>
<circle class="o" cx="1641.52" cy="214.38" r="6.91"/>
<path class="c" d="M1632.94 214.38H1650.09M1641.52 205.81V222.95"/>
<circle class="o" cx="1641.52" cy="258.62" r="6.91"/>
<path class="c" d="M1632.94 258.62H1650.09M1641.52 250.05V267.19"/>
<circle class="o" cx="1691.29" cy="214.38" r="6.91"/>
<path class="c" d="M1682.71 214.38H1699.86M1691.29 205.81V222.95"/>
<circle class="o" cx="1691.29" cy="258.62" r="6.91"/>
<path class="c" d="M1682.71 258.62H1699.86M1691.29 250.05V267.19"/>
<path class="o" d="M1613.87 283.92H1718.94V297.75H1727.23A27.65 27.65 0 0 1 1727.23 353.05H1718.94V366.88H1613.87V353.05H1605.57A27.65 27.65 0 0 1 1605.57 297.75H1613.87Z"/>
<circle class="o" cx="1641.52" cy="303.28" r="6.91"/>
<path class="c" d="M1632.94 303.28H1650.09M1641.52 294.71V311.85"/>
<circle class="o" cx="1641.52" cy="347.52" r="6.91"/>
<path class="c" d="M1632.94 347.52H1650.09M1641.52 338.95V356.09"/>
<circle class="o" cx="1691.29" cy="303.28" r="6.91"/>
<path class="c" d="M1682.71 303.28H1699.86M1691.29 294.71V311.85"/>
<circle class="o" cx="1691.29" cy="347.52" r="6.91"/>
<path class="c" d="M1682.71 347.52H1699.86M1691.29 338.95V356.09"/>
<path class="c" stroke-dasharray="20 2.5 4 2.5" d="M1666.4 190L1666.4 372"/>
<path class="c" stroke-dasharray="20 2.5 4 2.5" d="M1578.4 236.5L1744 236.5"/>
<path class="c" stroke-dasharray="20 2.5 4 2.5" d="M1578.4 325.4L1744 325.4"/>
<path class="d" d="M1571 189L1571 149"/>
<path class="d" d="M1760.4 189L1760.4 149"/>
<path class="d" d="M1571 151.5L1760.4 151.5"/>
<path style="fill:#2cc400" d="M1571 151.5L1579.5 150L1579.5 153Z"/>
<path style="fill:#2cc400" d="M1760.4 151.5L1751.9 153L1751.9 150Z"/>
<text class="txg" font-size="12" text-anchor="middle" transform="translate(1665.7 148.5) scale(0.72 1)">68.4</text>
<path class="d" d="M1754.5 173L1754.5 236.5"/>
<path class="d" d="M1738 175.4L1793 175.4"/>
<path style="fill:#2cc400" d="M1754.5 175.4L1747.5 176.9L1747.5 173.9Z"/>
<path style="fill:#2cc400" d="M1760.4 175.4L1767.4 173.9L1767.4 176.9Z"/>
<text class="txg" font-size="12" text-anchor="middle" transform="translate(1784.5 172.6) scale(0.72 1)">2.2</text>
<path class="d" d="M1744 236.5L1803.5 236.5"/>
<path class="d" d="M1744 325.4L1803.5 325.4"/>
<path class="d" d="M1800.6 236.5L1800.6 325.4"/>
<path style="fill:#2cc400" d="M1800.6 236.5L1802.1 245L1799.1 245Z"/>
<path style="fill:#2cc400" d="M1800.6 325.4L1799.1 316.9L1802.1 316.9Z"/>
<text class="txg" font-size="12" text-anchor="middle" transform="translate(1797.5 280.95) rotate(-90) scale(0.72 1)">32</text>
<path class="d" d="M1718.4 277.8L1782 277.8"/>
<path class="d" d="M1718.4 282.7L1782 282.7"/>
<path class="d" d="M1779.5 253L1779.5 299.4"/>
<path style="fill:#2cc400" d="M1779.5 277.8L1778 270.8L1781 270.8Z"/>
<path style="fill:#2cc400" d="M1779.5 282.7L1781 289.7L1778 289.7Z"/>
<text class="txg" font-size="12" text-anchor="middle" transform="translate(1776.5 258) rotate(-90) scale(0.72 1)">2</text>
<path class="o" d="M1450.8 1310.4L1450.8 1097.8L1640.9 1097.8L1640.9 1310.4"/>
<path class="y" stroke-dasharray="9 3 1.5 3" d="M1450.8 1310.4L1455.55 1307.79L1460.31 1305.21L1465.06 1302.71L1469.81 1300.32L1474.56 1298.09L1479.32 1296.07L1484.07 1294.31L1488.82 1292.85L1493.57 1291.77L1498.33 1291.1L1503.08 1290.9L1507.83 1291.2L1512.58 1292.03L1517.34 1293.39L1522.09 1295.28L1526.84 1297.64L1531.59 1300.43L1536.35 1303.55L1541.1 1306.91L1545.85 1310.4L1550.6 1313.89L1555.36 1317.25L1560.11 1320.37L1564.86 1323.16L1569.61 1325.52L1574.37 1327.41L1579.12 1328.77L1583.87 1329.6L1588.62 1329.9L1593.38 1329.7L1598.13 1329.03L1602.88 1327.95L1607.63 1326.49L1612.38 1324.73L1617.14 1322.71L1621.89 1320.48L1626.64 1318.09L1631.39 1315.59L1636.15 1313.01L1640.9 1310.4"/>
<path class="o" d="M1493.06 1103.93H1598.13V1117.75H1606.43A27.65 27.65 0 0 1 1606.43 1173.05H1598.13V1186.88H1493.06V1173.05H1484.77A27.65 27.65 0 0 1 1484.77 1117.75H1493.06Z"/>
<circle class="o" cx="1520.71" cy="1123.28" r="6.91"/>
<path class="c" d="M1512.14 1123.28H1529.29M1520.71 1114.71V1131.85"/>
<circle class="o" cx="1520.71" cy="1167.52" r="6.91"/>
<path class="c" d="M1512.14 1167.52H1529.29M1520.71 1158.95V1176.09"/>
<circle class="o" cx="1570.48" cy="1123.28" r="6.91"/>
<path class="c" d="M1561.91 1123.28H1579.06M1570.48 1114.71V1131.85"/>
<circle class="o" cx="1570.48" cy="1167.52" r="6.91"/>
<path class="c" d="M1561.91 1167.52H1579.06M1570.48 1158.95V1176.09"/>
<path class="o" d="M1493.06 1191.83H1598.13V1205.65H1606.43A27.65 27.65 0 0 1 1606.43 1260.95H1598.13V1274.77H1493.06V1260.95H1484.77A27.65 27.65 0 0 1 1484.77 1205.65H1493.06Z"/>
<circle class="o" cx="1520.71" cy="1211.18" r="6.91"/>
<path class="c" d="M1512.14 1211.18H1529.29M1520.71 1202.61V1219.75"/>
<circle class="o" cx="1520.71" cy="1255.42" r="6.91"/>
<path class="c" d="M1512.14 1255.42H1529.29M1520.71 1246.85V1263.99"/>
<circle class="o" cx="1570.48" cy="1211.18" r="6.91"/>
<path class="c" d="M1561.91 1211.18H1579.06M1570.48 1202.61V1219.75"/>
<circle class="o" cx="1570.48" cy="1255.42" r="6.91"/>
<path class="c" d="M1561.91 1255.42H1579.06M1570.48 1246.85V1263.99"/>
<path class="c" stroke-dasharray="20 2.5 4 2.5" d="M1545.6 1098.5L1545.6 1279.6"/>
<path class="c" stroke-dasharray="20 2.5 4 2.5" d="M1459 1145.4L1634.5 1145.4"/>
<path class="c" stroke-dasharray="20 2.5 4 2.5" d="M1459 1233.3L1634.5 1233.3"/>
<path class="o" d="M1986.25 249.07H2090.94V262.85H2099.21A27.55 27.55 0 0 1 2099.21 317.95H2090.94V331.72H1986.25V317.95H1977.99A27.55 27.55 0 0 1 1977.99 262.85H1986.25Z"/>
<circle class="o" cx="2013.8" cy="268.36" r="6.89"/>
<path class="c" d="M2005.26 268.36H2022.35M2013.8 259.82V276.9"/>
<circle class="o" cx="2013.8" cy="312.44" r="6.89"/>
<path class="c" d="M2005.26 312.44H2022.35M2013.8 303.9V320.98"/>
<circle class="o" cx="2063.39" cy="268.36" r="6.89"/>
<path class="c" d="M2054.85 268.36H2071.94M2063.39 259.82V276.9"/>
<circle class="o" cx="2063.39" cy="312.44" r="6.89"/>
<path class="c" d="M2054.85 312.44H2071.94M2063.39 303.9V320.98"/>
<path class="c" stroke-dasharray="20 2.5 4 2.5" d="M1951.7 290.4L2125.5 290.4"/>
<path class="c" stroke-dasharray="20 2.5 4 2.5" d="M2038.6 244.3L2038.6 338"/>
<path class="d" d="M1950.44 290.4L1950.44 195"/>
<path class="d" d="M2126.76 290.4L2126.76 195"/>
<path class="d" d="M1950.44 197.5L2126.76 197.5"/>
<path style="fill:#2cc400" d="M1950.44 197.5L1958.94 196L1958.94 199Z"/>
<path style="fill:#2cc400" d="M2126.76 197.5L2118.26 199L2118.26 196Z"/>
<text class="txg" font-size="12" text-anchor="middle" transform="translate(2038.6 194.5) scale(0.72 1)">64</text>
<path class="d" d="M1986.25 249.07L1986.25 211"/>
<path class="d" d="M2090.94 249.07L2090.94 211"/>
<path class="d" d="M1986.25 213.6L2090.94 213.6"/>
<path style="fill:#2cc400" d="M1986.25 213.6L1994.75 212.1L1994.75 215.1Z"/>
<path style="fill:#2cc400" d="M2090.94 213.6L2082.44 215.1L2082.44 212.1Z"/>
<text class="txg" font-size="12" text-anchor="middle" transform="translate(2038.6 210.5) scale(0.72 1)">38</text>
<path class="d" d="M2013.8 268.36L2013.8 233"/>
<path class="d" d="M2063.39 268.36L2063.39 233"/>
<path class="d" d="M2013.8 235.5L2063.39 235.5"/>
<path style="fill:#2cc400" d="M2013.8 235.5L2022.3 234L2022.3 237Z"/>
<path style="fill:#2cc400" d="M2063.39 235.5L2054.89 237L2054.89 234Z"/>
<text class="txg" font-size="12" text-anchor="middle" transform="translate(2038.6 232.5) scale(0.72 1)">18</text>
<path class="d" d="M2090.94 249.07L2190 249.07"/>
<path class="d" d="M2090.94 331.72L2190 331.72"/>
<path class="d" d="M2187.8 249.07L2187.8 331.72"/>
<path style="fill:#2cc400" d="M2187.8 249.07L2189.3 257.57L2186.3 257.57Z"/>
<path style="fill:#2cc400" d="M2187.8 331.72L2186.3 323.22L2189.3 323.22Z"/>
<text class="txg" font-size="12" text-anchor="middle" transform="translate(2184.5 290.4) rotate(-90) scale(0.72 1)">30</text>
<path class="d" d="M2070.39 268.36L2160 268.36"/>
<path class="d" d="M2070.39 312.44L2160 312.44"/>
<path class="d" d="M2157.6 268.36L2157.6 312.44"/>
<path style="fill:#2cc400" d="M2157.6 268.36L2159.1 276.86L2156.1 276.86Z"/>
<path style="fill:#2cc400" d="M2157.6 312.44L2156.1 303.94L2159.1 303.94Z"/>
<text class="txg" font-size="12" text-anchor="middle" transform="translate(2154.5 290.4) rotate(-90) scale(0.72 1)">16</text>
<path class="d" d="M1917.9 332.4L1946.9 332.4"/>
<path class="d" d="M1946.9 332.4L1978.5 290.3"/>
<path style="fill:#2cc400" d="M1960.5 314.3L1957.5 320.8L1955.1 319Z"/>
<text class="txg" font-size="12" text-anchor="middle" transform="translate(1932 330) scale(0.72 1)">2-R10</text>
<path class="d" d="M2028 349.5L2054.9 349.5"/>
<path class="d" d="M2028 349.5L2005 291.3"/>
<path style="fill:#2cc400" d="M2009.5 302.7L2013.48 308.65L2010.69 309.76Z"/>
<path style="fill:#2cc400" d="M2019.2 327.2L2015.22 321.25L2018.01 320.14Z"/>
<text class="txg" font-size="12" text-anchor="middle" transform="translate(2042.6 347) scale(0.72 1)">4-ø5</text>
<g fill="#00ff00"><text class="cj" x="1758.5" y="558.42" font-size="27.78" textLength="62.8" lengthAdjust="spacingAndGlyphs">技术要求</text></g>
<g fill="#00ff00" stroke="#00ff00"><text class="th2" x="1730.8" y="613.12" font-size="16.95" textLength="7.78" lengthAdjust="spacingAndGlyphs" style="font-style:normal">1</text><text class="cj" stroke="none" x="1739.28" y="613.76" font-size="19.22" textLength="8.46" lengthAdjust="spacingAndGlyphs">、</text><text class="cj" stroke="none" x="1747.74" y="613.76" font-size="19.22" textLength="52.9" lengthAdjust="spacingAndGlyphs">模具制造按</text><text class="th2" x="1800.92" y="613.12" font-size="16.95" textLength="78.01" lengthAdjust="spacingAndGlyphs" style="font-style:normal">GB2854–81</text><text class="cj" stroke="none" x="1879.63" y="613.76" font-size="19.22" textLength="95.22" lengthAdjust="spacingAndGlyphs">冷冲模架技术条件和</text><text class="th2" x="1975.11" y="613.12" font-size="16.95" textLength="78.01" lengthAdjust="spacingAndGlyphs" style="font-style:normal">GB2870-81</text><text class="cj" stroke="none" x="2053.82" y="613.76" font-size="19.22" textLength="179.8" lengthAdjust="spacingAndGlyphs">冷冲模零件技术条件的有关规定执行；</text></g>
<g fill="#00ff00" stroke="#00ff00"><text class="th2" x="1730.8" y="641.92" font-size="16.95" textLength="7.65" lengthAdjust="spacingAndGlyphs" style="font-style:normal">2</text><text class="cj" stroke="none" x="1739.15" y="642.56" font-size="19.22" textLength="8.34" lengthAdjust="spacingAndGlyphs">、</text><text class="cj" stroke="none" x="1747.48" y="642.56" font-size="19.22" textLength="114.6" lengthAdjust="spacingAndGlyphs">零件加工前去除氧化皮；</text></g>
<g fill="#00ff00" stroke="#00ff00"><text class="th2" x="1730.8" y="670.92" font-size="16.95" textLength="7.94" lengthAdjust="spacingAndGlyphs" style="font-style:normal">3</text><text class="cj" stroke="none" x="1739.44" y="671.56" font-size="19.22" textLength="8.62" lengthAdjust="spacingAndGlyphs">、</text><text class="cj" stroke="none" x="1748.06" y="671.56" font-size="19.22" textLength="64.65" lengthAdjust="spacingAndGlyphs">装配后的模架</text><text class="cj" stroke="none" x="1812.71" y="671.56" font-size="19.22" textLength="8.62" lengthAdjust="spacingAndGlyphs">，</text><text class="cj" stroke="none" x="1821.33" y="671.56" font-size="19.22" textLength="140.06" lengthAdjust="spacingAndGlyphs">上模座沿导柱上下移动要平稳</text><text class="cj" stroke="none" x="1961.39" y="671.56" font-size="19.22" textLength="8.62" lengthAdjust="spacingAndGlyphs">，</text><text class="cj" stroke="none" x="1970.01" y="671.56" font-size="19.22" textLength="64.65" lengthAdjust="spacingAndGlyphs">无卡滞现象；</text></g>
<g fill="#00ff00" stroke="#00ff00"><text class="th2" x="1730.8" y="699.52" font-size="16.95" textLength="8.06" lengthAdjust="spacingAndGlyphs" style="font-style:normal">4</text><text class="cj" stroke="none" x="1739.56" y="700.16" font-size="19.22" textLength="8.73" lengthAdjust="spacingAndGlyphs">、</text><text class="cj" stroke="none" x="1748.29" y="700.16" font-size="19.22" textLength="152.78" lengthAdjust="spacingAndGlyphs">零件在装配前应清理和清洗干净</text><text class="cj" stroke="none" x="1901.07" y="700.16" font-size="19.22" textLength="8.73" lengthAdjust="spacingAndGlyphs">，</text><text class="cj" stroke="none" x="1909.8" y="700.16" font-size="19.22" textLength="65.48" lengthAdjust="spacingAndGlyphs">不得出现毛刺</text><text class="cj" stroke="none" x="1975.28" y="700.16" font-size="19.22" textLength="8.73" lengthAdjust="spacingAndGlyphs">、</text><text class="cj" stroke="none" x="1984.01" y="700.16" font-size="19.22" textLength="21.82" lengthAdjust="spacingAndGlyphs">飞边</text><text class="cj" stroke="none" x="2005.83" y="700.16" font-size="19.22" textLength="8.73" lengthAdjust="spacingAndGlyphs">、</text><text class="cj" stroke="none" x="2014.56" y="700.16" font-size="19.22" textLength="32.74" lengthAdjust="spacingAndGlyphs">氧化皮</text><text class="cj" stroke="none" x="2047.3" y="700.16" font-size="19.22" textLength="8.73" lengthAdjust="spacingAndGlyphs">、</text><text class="cj" stroke="none" x="2056.03" y="700.16" font-size="19.22" textLength="43.66" lengthAdjust="spacingAndGlyphs">粉尘等；</text></g>
<g fill="#00ff00" stroke="#00ff00"><text class="th2" x="1730.8" y="729.42" font-size="16.95" textLength="7.8" lengthAdjust="spacingAndGlyphs" style="font-style:normal">6</text><text class="cj" stroke="none" x="1739.3" y="730.06" font-size="19.22" textLength="8.47" lengthAdjust="spacingAndGlyphs">、</text><text class="cj" stroke="none" x="1747.77" y="730.06" font-size="19.22" textLength="254.35" lengthAdjust="spacingAndGlyphs">装配前应对主要的零部件的配合尺寸及精度进行复查；</text></g>
<g fill="#00ff00" stroke="#00ff00"><text class="th2" x="1730.8" y="758.42" font-size="16.95" textLength="7.83" lengthAdjust="spacingAndGlyphs" style="font-style:normal">7</text><text class="cj" stroke="none" x="1739.33" y="759.06" font-size="19.22" textLength="8.51" lengthAdjust="spacingAndGlyphs">、</text><text class="cj" stroke="none" x="1747.84" y="759.06" font-size="19.22" textLength="138.29" lengthAdjust="spacingAndGlyphs">各密封件装配前必须浸透油。</text></g>
<path class="t" style="stroke-width:1" d="M1805.4 966.3H2301.4M1805.4 985.6H2301.4M1805.4 1004.9H2301.4M1805.4 1024.2H2301.4M1805.4 1043.5H2301.4M1805.4 1062.8H2301.4M1805.4 1082.1H2301.4M1805.4 1101.4H2301.4M1805.4 1120.7H2301.4M1805.4 1140H2301.4M1805.4 1159.3H2301.4M1805.4 1178.6H2301.4M1805.4 1197.9H2301.4M1805.4 1217.2H2301.4M1805.4 1236.5H2301.4M1805.4 1255.8H2301.4M1805.4 1275.1H2301.4M1805.4 1294.4H2301.4M1805.4 1313.7H2301.4M1805.4 1333H2301.4M1805.4 1352.3H2301.4M1805.4 1371.6H2301.4M1805.4 1390.9H2301.4M1805.4 1410.2H2301.4M1805.4 1429.5H2301.4M1805.4 1468.3H2301.4M1805.4 966.3V1468.3M1827.4 966.3V1468.3M1937.7 966.3V1468.3M2059.5 966.3V1468.3M2081.5 966.3V1468.3M2186.4 966.3V1468.3M2213.6 966.3V1449.2M2246.4 966.3V1468.3M2186.4 1449.2H2246.4"/>
<text class="th" fill="#fff" font-size="16" text-anchor="middle" transform="translate(1815 1425.9) scale(0.82 1)">1</text>
<text class="th" fill="#fff" font-size="16" text-anchor="middle" transform="translate(1880 1425.9) scale(0.8 1)" textLength="67.38" lengthAdjust="spacing">GB70-76</text>
<g fill="#fff"><text class="cj" x="1985.8" y="1427.62" font-size="14.44" textLength="20.4" lengthAdjust="spacingAndGlyphs">螺钉</text></g>
<text class="th" fill="#fff" font-size="16" text-anchor="middle" transform="translate(2071.5 1426.5) scale(0.74 1)">4</text>
<text class="th" fill="#fff" font-size="16" text-anchor="start" transform="translate(2123.1 1425.9) scale(0.78 1)">35</text>
<g fill="#fff"><text class="cj" x="2139.9" y="1426.92" font-size="14.44" textLength="10" lengthAdjust="spacingAndGlyphs">钢</text></g>
<text class="th" fill="#fff" font-size="16" text-anchor="middle" transform="translate(1815 1406.6) scale(0.82 1)">2</text>
<g fill="#fff"><text class="cj" x="1988.8" y="1408.32" font-size="14.44" textLength="20.4" lengthAdjust="spacingAndGlyphs">销钉</text></g>
<text class="th" fill="#fff" font-size="16" text-anchor="middle" transform="translate(2071.5 1407.2) scale(0.74 1)">4</text>
<text class="th" fill="#fff" font-size="16" text-anchor="start" transform="translate(2123.1 1406.6) scale(0.78 1)">45</text>
<g fill="#fff"><text class="cj" x="2137.4" y="1407.62" font-size="14.44" textLength="10" lengthAdjust="spacingAndGlyphs">钢</text></g>
<text class="th" fill="#fff" font-size="16" text-anchor="middle" transform="translate(1815 1387.3) scale(0.82 1)">3</text>
<text class="th" fill="#fff" font-size="16" text-anchor="middle" transform="translate(1880 1387.3) scale(0.8 1)" textLength="135" lengthAdjust="spacing">GB/T2851.3.1990</text>
<g fill="#fff"><text class="cj" x="1975.2" y="1389.02" font-size="14.44" textLength="30.6" lengthAdjust="spacingAndGlyphs">下模座</text></g>
<text class="th" fill="#fff" font-size="16" text-anchor="middle" transform="translate(2071.5 1387.9) scale(0.74 1)">1</text>
<text class="th" fill="#fff" font-size="16" text-anchor="middle" transform="translate(2132.5 1387.3) scale(0.8 1)" textLength="47.5" lengthAdjust="spacing">HT200</text>
<text class="th" fill="#fff" font-size="16" text-anchor="middle" transform="translate(1815 1368) scale(0.82 1)">4</text>
<g fill="#fff"><text class="cj" x="1971.9" y="1369.72" font-size="14.44" textLength="61.2" lengthAdjust="spacingAndGlyphs">凸凹模固定板</text></g>
<text class="th" fill="#fff" font-size="16" text-anchor="middle" transform="translate(2071.5 1368.6) scale(0.74 1)">1</text>
<text class="th" fill="#fff" font-size="16" text-anchor="start" transform="translate(2123.1 1368) scale(0.78 1)">45</text>
<g fill="#fff"><text class="cj" x="2137.4" y="1369.02" font-size="14.44" textLength="10" lengthAdjust="spacingAndGlyphs">钢</text></g>
<text class="th" fill="#fff" font-size="16" text-anchor="middle" transform="translate(1815 1348.7) scale(0.82 1)">5</text>
<g fill="#fff"><text class="cj" x="1986.7" y="1350.42" font-size="14.44" textLength="30.6" lengthAdjust="spacingAndGlyphs">凸凹模</text></g>
<text class="th" fill="#fff" font-size="16" text-anchor="middle" transform="translate(2071.5 1349.3) scale(0.74 1)">1</text>
<text class="th" fill="#fff" font-size="16" text-anchor="middle" transform="translate(2135 1348.7) scale(0.8 1)" textLength="71.75" lengthAdjust="spacing">Cr12MoV</text>
<text class="th" fill="#fff" font-size="16" text-anchor="middle" transform="translate(1815 1329.4) scale(0.82 1)">6</text>
<g fill="#fff"><text class="cj" x="1988.3" y="1331.12" font-size="14.44" textLength="20.4" lengthAdjust="spacingAndGlyphs">橡胶</text></g>
<text class="th" fill="#fff" font-size="16" text-anchor="middle" transform="translate(2071.5 1330) scale(0.74 1)">1</text>
<g fill="#fff"><text class="cj" x="2113.8" y="1328.92" font-size="14.44" textLength="20.4" lengthAdjust="spacingAndGlyphs">橡胶</text></g>
<text class="th" fill="#fff" font-size="16" text-anchor="middle" transform="translate(1815 1310.1) scale(0.82 1)">7</text>
<g fill="#fff"><text class="cj" x="1977.7" y="1311.82" font-size="14.44" textLength="30.6" lengthAdjust="spacingAndGlyphs">卸料版</text></g>
<text class="th" fill="#fff" font-size="16" text-anchor="middle" transform="translate(2071.5 1310.7) scale(0.74 1)">1</text>
<text class="th" fill="#fff" font-size="16" text-anchor="middle" transform="translate(2135 1310.1) scale(0.8 1)" textLength="71.75" lengthAdjust="spacing">Cr12MoV</text>
<text class="th" fill="#fff" font-size="16" text-anchor="middle" transform="translate(1815 1290.8) scale(0.82 1)">8</text>
<text class="th" fill="#fff" font-size="16" text-anchor="middle" transform="translate(1880 1290.8) scale(0.8 1)" textLength="115.5" lengthAdjust="spacing">GB2866.11-81</text>
<g fill="#fff"><text class="cj" x="1985.2" y="1292.52" font-size="14.44" textLength="30.6" lengthAdjust="spacingAndGlyphs">挡料销</text></g>
<text class="th" fill="#fff" font-size="16" text-anchor="middle" transform="translate(2071.5 1291.4) scale(0.74 1)">3</text>
<text class="th" fill="#fff" font-size="16" text-anchor="start" transform="translate(2118.1 1290.8) scale(0.78 1)">45</text>
<g fill="#fff"><text class="cj" x="2132.4" y="1291.82" font-size="14.44" textLength="20" lengthAdjust="spacingAndGlyphs">号钢</text></g>
<text class="th" fill="#fff" font-size="16" text-anchor="middle" transform="translate(1815 1271.5) scale(0.82 1)">9</text>
<g fill="#fff"><text class="cj" x="1987.3" y="1273.22" font-size="14.44" textLength="20.4" lengthAdjust="spacingAndGlyphs">凹模</text></g>
<text class="th" fill="#fff" font-size="16" text-anchor="middle" transform="translate(2071.5 1272.1) scale(0.74 1)">1</text>
<text class="th" fill="#fff" font-size="16" text-anchor="middle" transform="translate(2135 1271.5) scale(0.8 1)" textLength="71.75" lengthAdjust="spacing">Cr12MoV</text>
<text class="th" fill="#fff" font-size="16" text-anchor="middle" transform="translate(1815 1252.2) scale(0.82 1)">10</text>
<text class="th" fill="#fff" font-size="16" text-anchor="middle" transform="translate(1880 1252.2) scale(0.8 1)" textLength="105.88" lengthAdjust="spacing">GB2861.6-81</text>
<g fill="#fff"><text class="cj" x="1985.8" y="1253.92" font-size="14.44" textLength="20.4" lengthAdjust="spacingAndGlyphs">导套</text></g>
<text class="th" fill="#fff" font-size="16" text-anchor="middle" transform="translate(2071.5 1252.8) scale(0.74 1)">2</text>
<text class="th" fill="#fff" font-size="16" text-anchor="start" transform="translate(2118.1 1252.2) scale(0.78 1)">20</text>
<g fill="#fff"><text class="cj" x="2132.4" y="1253.22" font-size="14.44" textLength="20" lengthAdjust="spacingAndGlyphs">号钢</text></g>
<text class="th" fill="#fff" font-size="16" text-anchor="middle" transform="translate(1815 1232.9) scale(0.82 1)">11</text>
<text class="th" fill="#fff" font-size="16" text-anchor="middle" transform="translate(1880 1232.9) scale(0.8 1)" textLength="105.88" lengthAdjust="spacing">GB2861.1-81</text>
<g fill="#fff"><text class="cj" x="1987.3" y="1234.62" font-size="14.44" textLength="20.4" lengthAdjust="spacingAndGlyphs">导柱</text></g>
<text class="th" fill="#fff" font-size="16" text-anchor="middle" transform="translate(2071.5 1233.5) scale(0.74 1)">2</text>
<text class="th" fill="#fff" font-size="16" text-anchor="start" transform="translate(2118.1 1232.9) scale(0.78 1)">20</text>
<g fill="#fff"><text class="cj" x="2132.4" y="1233.92" font-size="14.44" textLength="20" lengthAdjust="spacingAndGlyphs">号钢</text></g>
<text class="th" fill="#fff" font-size="16" text-anchor="middle" transform="translate(1815 1213.6) scale(0.82 1)">12</text>
<text class="th" fill="#fff" font-size="16" text-anchor="middle" transform="translate(1880 1213.6) scale(0.8 1)" textLength="115.5" lengthAdjust="spacing">GB2855.11-81</text>
<g fill="#fff"><text class="cj" x="1977.7" y="1215.32" font-size="14.44" textLength="30.6" lengthAdjust="spacingAndGlyphs">上模座</text></g>
<text class="th" fill="#fff" font-size="16" text-anchor="middle" transform="translate(2071.5 1214.2) scale(0.74 1)">1</text>
<text class="th" fill="#fff" font-size="16" text-anchor="middle" transform="translate(2132.5 1213.6) scale(0.8 1)" textLength="47.5" lengthAdjust="spacing">HT200</text>
<text class="th" fill="#fff" font-size="16" text-anchor="middle" transform="translate(1815 1194.3) scale(0.82 1)">13</text>
<text class="th" fill="#fff" font-size="16" text-anchor="middle" transform="translate(1880 1194.3) scale(0.8 1)" textLength="67.38" lengthAdjust="spacing">GB70-76</text>
<g fill="#fff"><text class="cj" x="1989.3" y="1196.02" font-size="14.44" textLength="20.4" lengthAdjust="spacingAndGlyphs">螺钉</text></g>
<text class="th" fill="#fff" font-size="16" text-anchor="middle" transform="translate(2071.5 1194.9) scale(0.74 1)">4</text>
<text class="th" fill="#fff" font-size="16" text-anchor="start" transform="translate(2123.1 1194.3) scale(0.78 1)">35</text>
<g fill="#fff"><text class="cj" x="2137.4" y="1195.32" font-size="14.44" textLength="10" lengthAdjust="spacingAndGlyphs">钢</text></g>
<text class="th" fill="#fff" font-size="16" text-anchor="middle" transform="translate(1815 1175) scale(0.82 1)">14</text>
<text class="th" fill="#fff" font-size="16" text-anchor="middle" transform="translate(1880 1175) scale(0.8 1)" textLength="105.88" lengthAdjust="spacing">GB2862.3-81</text>
<g fill="#fff"><text class="cj" x="1990.3" y="1176.72" font-size="14.44" textLength="20.4" lengthAdjust="spacingAndGlyphs">模柄</text></g>
<text class="th" fill="#fff" font-size="16" text-anchor="middle" transform="translate(2071.5 1175.6) scale(0.74 1)">1</text>
<text class="th" fill="#fff" font-size="16" text-anchor="start" transform="translate(2123.1 1175) scale(0.78 1)">45</text>
<g fill="#fff"><text class="cj" x="2137.4" y="1176.02" font-size="14.44" textLength="10" lengthAdjust="spacingAndGlyphs">钢</text></g>
<text class="th" fill="#fff" font-size="16" text-anchor="middle" transform="translate(1815 1155.7) scale(0.82 1)">15</text>
<g fill="#fff"><text class="cj" x="1990.3" y="1157.42" font-size="14.44" textLength="20.4" lengthAdjust="spacingAndGlyphs">打杆</text></g>
<text class="th" fill="#fff" font-size="16" text-anchor="middle" transform="translate(2071.5 1156.3) scale(0.74 1)">1</text>
<text class="th" fill="#fff" font-size="16" text-anchor="start" transform="translate(2123.1 1155.7) scale(0.78 1)">45</text>
<g fill="#fff"><text class="cj" x="2137.4" y="1156.72" font-size="14.44" textLength="10" lengthAdjust="spacingAndGlyphs">钢</text></g>
<text class="th" fill="#fff" font-size="16" text-anchor="middle" transform="translate(1815 1136.4) scale(0.82 1)">16</text>
<g fill="#fff"><text class="cj" x="1990.3" y="1138.12" font-size="14.44" textLength="20.4" lengthAdjust="spacingAndGlyphs">推板</text></g>
<text class="th" fill="#fff" font-size="16" text-anchor="middle" transform="translate(2071.5 1137) scale(0.74 1)">1</text>
<text class="th" fill="#fff" font-size="16" text-anchor="start" transform="translate(2123.1 1136.4) scale(0.78 1)">45</text>
<g fill="#fff"><text class="cj" x="2137.4" y="1137.42" font-size="14.44" textLength="10" lengthAdjust="spacingAndGlyphs">钢</text></g>
<text class="th" fill="#fff" font-size="16" text-anchor="middle" transform="translate(1815 1117.1) scale(0.82 1)">17</text>
<text class="th" fill="#fff" font-size="16" text-anchor="middle" transform="translate(1880 1117.1) scale(0.8 1)" textLength="67.38" lengthAdjust="spacing">GB70-76</text>
<g fill="#fff"><text class="cj" x="1989.3" y="1118.82" font-size="14.44" textLength="20.4" lengthAdjust="spacingAndGlyphs">螺钉</text></g>
<text class="th" fill="#fff" font-size="16" text-anchor="middle" transform="translate(2071.5 1117.7) scale(0.74 1)">4</text>
<text class="th" fill="#fff" font-size="16" text-anchor="start" transform="translate(2123.1 1117.1) scale(0.78 1)">35</text>
<g fill="#fff"><text class="cj" x="2137.4" y="1118.12" font-size="14.44" textLength="10" lengthAdjust="spacingAndGlyphs">钢</text></g>
<text class="th" fill="#fff" font-size="16" text-anchor="middle" transform="translate(1815 1097.8) scale(0.82 1)">18</text>
<g fill="#fff"><text class="cj" x="1988.8" y="1099.52" font-size="14.44" textLength="20.4" lengthAdjust="spacingAndGlyphs">销钉</text></g>
<text class="th" fill="#fff" font-size="16" text-anchor="middle" transform="translate(2071.5 1098.4) scale(0.74 1)">4</text>
<text class="th" fill="#fff" font-size="16" text-anchor="start" transform="translate(2123.1 1097.8) scale(0.78 1)">45</text>
<g fill="#fff"><text class="cj" x="2137.4" y="1098.82" font-size="14.44" textLength="10" lengthAdjust="spacingAndGlyphs">钢</text></g>
<text class="th" fill="#fff" font-size="16" text-anchor="middle" transform="translate(1815 1078.5) scale(0.82 1)">19</text>
<text class="th" fill="#fff" font-size="16" text-anchor="middle" transform="translate(1880 1078.5) scale(0.8 1)" textLength="96.25" lengthAdjust="spacing">JB/T7643.6</text>
<g fill="#fff"><text class="cj" x="1990.3" y="1080.22" font-size="14.44" textLength="20.4" lengthAdjust="spacingAndGlyphs">垫板</text></g>
<text class="th" fill="#fff" font-size="16" text-anchor="middle" transform="translate(2071.5 1079.1) scale(0.74 1)">1</text>
<text class="th" fill="#fff" font-size="16" text-anchor="start" transform="translate(2123.1 1078.5) scale(0.78 1)">45</text>
<g fill="#fff"><text class="cj" x="2137.4" y="1079.52" font-size="14.44" textLength="10" lengthAdjust="spacingAndGlyphs">钢</text></g>
<text class="th" fill="#fff" font-size="16" text-anchor="middle" transform="translate(1815 1059.2) scale(0.82 1)">20</text>
<g fill="#fff"><text class="cj" x="1974" y="1060.92" font-size="14.44" textLength="51" lengthAdjust="spacingAndGlyphs">凸模固定板</text></g>
<text class="th" fill="#fff" font-size="16" text-anchor="middle" transform="translate(2071.5 1059.8) scale(0.74 1)">1</text>
<text class="th" fill="#fff" font-size="16" text-anchor="start" transform="translate(2123.1 1059.2) scale(0.78 1)">45</text>
<g fill="#fff"><text class="cj" x="2137.4" y="1060.22" font-size="14.44" textLength="10" lengthAdjust="spacingAndGlyphs">钢</text></g>
<text class="th" fill="#fff" font-size="16" text-anchor="middle" transform="translate(1815 1039.9) scale(0.82 1)">21</text>
<g fill="#fff"><text class="cj" x="1984" y="1042.12" font-size="14.44" textLength="20.4" lengthAdjust="spacingAndGlyphs">凸模</text></g>
<text class="th2" fill="#fff" font-size="14.5" text-anchor="start" transform="translate(2005.4 1042) scale(0.74 1)">1</text>
<text class="th" fill="#fff" font-size="16" text-anchor="middle" transform="translate(2071.5 1040.5) scale(0.74 1)">1</text>
<text class="th" fill="#fff" font-size="16" text-anchor="middle" transform="translate(2135 1039.9) scale(0.8 1)" textLength="71.75" lengthAdjust="spacing">Cr12MoV</text>
<text class="th" fill="#fff" font-size="16" text-anchor="middle" transform="translate(1815 1020.6) scale(0.82 1)">22</text>
<g fill="#fff"><text class="cj" x="1990.3" y="1022.32" font-size="14.44" textLength="20.4" lengthAdjust="spacingAndGlyphs">推杆</text></g>
<text class="th" fill="#fff" font-size="16" text-anchor="middle" transform="translate(2071.5 1021.2) scale(0.74 1)">2</text>
<text class="th" fill="#fff" font-size="16" text-anchor="start" transform="translate(2123.1 1020.6) scale(0.78 1)">45</text>
<g fill="#fff"><text class="cj" x="2137.4" y="1021.62" font-size="14.44" textLength="10" lengthAdjust="spacingAndGlyphs">钢</text></g>
<text class="th" fill="#fff" font-size="16" text-anchor="middle" transform="translate(1815 1001.3) scale(0.82 1)">23</text>
<g fill="#fff"><text class="cj" x="1986.7" y="1003.02" font-size="14.44" textLength="30.6" lengthAdjust="spacingAndGlyphs">推件块</text></g>
<text class="th" fill="#fff" font-size="16" text-anchor="middle" transform="translate(2071.5 1001.9) scale(0.74 1)">1</text>
<text class="th" fill="#fff" font-size="16" text-anchor="start" transform="translate(2123.1 1001.3) scale(0.78 1)">45</text>
<g fill="#fff"><text class="cj" x="2137.4" y="1002.32" font-size="14.44" textLength="10" lengthAdjust="spacingAndGlyphs">钢</text></g>
<text class="th" fill="#fff" font-size="16" text-anchor="middle" transform="translate(1815 982) scale(0.82 1)">24</text>
<g fill="#fff"><text class="cj" x="1986.6" y="983.72" font-size="14.44" textLength="40.8" lengthAdjust="spacingAndGlyphs">落料凹模</text></g>
<text class="th" fill="#fff" font-size="16" text-anchor="middle" transform="translate(2071.5 982.6) scale(0.74 1)">1</text>
<text class="th" fill="#fff" font-size="16" text-anchor="middle" transform="translate(2135 982) scale(0.8 1)" textLength="71.75" lengthAdjust="spacing">Cr12MoV</text>
<g fill="#fff"><text class="cj" x="1810.5" y="1446.83" font-size="15.56" textLength="11" lengthAdjust="spacingAndGlyphs">序</text></g>
<g fill="#fff"><text class="cj" x="1810.5" y="1462.83" font-size="15.56" textLength="11" lengthAdjust="spacingAndGlyphs">号</text></g>
<g fill="#fff"><text class="cj" x="1859" y="1456.83" font-size="15.56" textLength="40" lengthAdjust="spacingAndGlyphs">国标代号</text></g>
<g fill="#fff"><text class="cj" x="1974.25" y="1456.83" font-size="15.56" textLength="10.5" lengthAdjust="spacingAndGlyphs">名</text><text class="cj" x="1995.25" y="1456.83" font-size="15.56" textLength="10.5" lengthAdjust="spacingAndGlyphs">称</text></g>
<g fill="#fff"><text class="cj" x="2065" y="1445.83" font-size="15.56" textLength="11" lengthAdjust="spacingAndGlyphs">数</text></g>
<g fill="#fff"><text class="cj" x="2065" y="1463.83" font-size="15.56" textLength="11" lengthAdjust="spacingAndGlyphs">量</text></g>
<g fill="#fff"><text class="cj" x="2110.25" y="1455.83" font-size="15.56" textLength="10.5" lengthAdjust="spacingAndGlyphs">材</text><text class="cj" x="2131.25" y="1455.83" font-size="15.56" textLength="10.5" lengthAdjust="spacingAndGlyphs">料</text></g>
<g fill="#fff"><text class="cj" x="2190.5" y="1446.42" font-size="14.44" textLength="20" lengthAdjust="spacingAndGlyphs">单件</text></g>
<g fill="#fff"><text class="cj" x="2219.5" y="1446.42" font-size="14.44" textLength="20" lengthAdjust="spacingAndGlyphs">总计</text></g>
<g fill="#fff"><text class="cj" x="2205.5" y="1465.92" font-size="14.44" textLength="20" lengthAdjust="spacingAndGlyphs">重量</text></g>
<g fill="#fff"><text class="cj" x="2262.5" y="1457.83" font-size="15.56" textLength="20" lengthAdjust="spacingAndGlyphs">备注</text></g>
<path class="t" style="stroke-width:1" d="M1805.4 1487.1H2026.2M1805.4 1507.3H2026.2M1805.4 1526.1H2026.2M1805.4 1545.3H2026.2M1805.4 1564.1H2026.2M1805.4 1584.3H2026.2M1805.4 1603.1H2026.2M1832.4 1468.3V1545.3M1860.2 1468.3V1545.3M1904.4 1468.3V1545.3M1838.2 1545.3V1622.3M1871.5 1545.3V1622.3M1915.3 1545.3V1622.3M1948.5 1468.3V1622.3M1981.4 1468.3V1622.3M2026.2 1468.3V1622.3M2164.4 1468.3V1622.3M1805.4 1468.3V1622.3M2026.2 1545.3H2164.4M2164.4 1512.5H2301.4M2164.4 1540.3H2301.4M2164.4 1564.1H2301.4M2164.4 1589.5H2301.4M2235.5 1512.5V1564.1M2268.4 1512.5V1564.1M2181.4 1540.3V1564.1M2199.5 1540.3V1564.1M2217.4 1540.3V1564.1"/>
<g fill="#fff"><text class="cj" x="1809.5" y="1542.22" font-size="14.44" textLength="19" lengthAdjust="spacingAndGlyphs">标记</text></g>
<g fill="#fff"><text class="cj" x="1836.8" y="1542.22" font-size="14.44" textLength="19" lengthAdjust="spacingAndGlyphs">处数</text></g>
<g fill="#fff"><text class="cj" x="1868" y="1542.22" font-size="14.44" textLength="9.5" lengthAdjust="spacingAndGlyphs">分</text></g>
<g fill="#fff"><text class="cj" x="1888" y="1542.22" font-size="14.44" textLength="9.5" lengthAdjust="spacingAndGlyphs">区</text></g>
<g fill="#fff"><text class="cj" x="1905" y="1542.22" font-size="14.44" textLength="43" lengthAdjust="spacingAndGlyphs">更改文件号</text></g>
<g fill="#fff"><text class="cj" x="1954" y="1542.22" font-size="14.44" textLength="9.5" lengthAdjust="spacingAndGlyphs">签</text></g>
<g fill="#fff"><text class="cj" x="1968" y="1542.22" font-size="14.44" textLength="9.5" lengthAdjust="spacingAndGlyphs">名</text></g>
<g fill="#fff"><text class="cj" x="1982.64" y="1542.22" font-size="14.44" textLength="42.32" lengthAdjust="spacingAndGlyphs">年、月、日</text></g>
<g fill="#fff"><text class="cj" x="1810" y="1561.42" font-size="14.44" textLength="9.5" lengthAdjust="spacingAndGlyphs">设</text></g>
<g fill="#fff"><text class="cj" x="1824.5" y="1561.42" font-size="14.44" textLength="9.5" lengthAdjust="spacingAndGlyphs">计</text></g>
<g fill="#fff"><text class="cj" x="1918.5" y="1561.42" font-size="14.44" textLength="27" lengthAdjust="spacingAndGlyphs">标准化</text></g>
<g fill="#fff"><text class="cj" x="1810" y="1600.42" font-size="14.44" textLength="9.5" lengthAdjust="spacingAndGlyphs">审</text></g>
<g fill="#fff"><text class="cj" x="1824.5" y="1600.42" font-size="14.44" textLength="9.5" lengthAdjust="spacingAndGlyphs">核</text></g>
<g fill="#fff"><text class="cj" x="1810" y="1618.92" font-size="14.44" textLength="9.5" lengthAdjust="spacingAndGlyphs">工</text></g>
<g fill="#fff"><text class="cj" x="1825" y="1618.92" font-size="14.44" textLength="9.5" lengthAdjust="spacingAndGlyphs">艺</text></g>
<g fill="#fff"><text class="cj" x="1920.5" y="1618.92" font-size="14.44" textLength="9.5" lengthAdjust="spacingAndGlyphs">批</text></g>
<g fill="#fff"><text class="cj" x="1935.5" y="1618.92" font-size="14.44" textLength="9.5" lengthAdjust="spacingAndGlyphs">准</text></g>
<g fill="#fff"><text class="cj" x="2034.5" y="1516" font-size="20" textLength="83.3" lengthAdjust="spacingAndGlyphs">落料冲孔复合模</text></g>
<text class="th2" fill="#fff" font-size="14.5" text-anchor="middle" transform="translate(2233.5 1495.5) scale(0.88 1)" textLength="155.45" lengthAdjust="spacing">JD3093-35131.104.00</text>
<text class="th" fill="#fff" font-size="15.5" text-anchor="middle" transform="translate(2094.5 1593.8) scale(0.95 1)" textLength="69.47" lengthAdjust="spacing">XXX-XX</text>
<text class="th2" fill="#fff" font-size="13" text-anchor="middle" transform="translate(2285 1557.5) scale(0.74 1)">1:1</text>
<g fill="#fff"><text class="cj" x="2173.5" y="1532.42" font-size="14.44" textLength="10" lengthAdjust="spacingAndGlyphs">阶</text></g>
<g fill="#fff"><text class="cj" x="2187.5" y="1532.42" font-size="14.44" textLength="10" lengthAdjust="spacingAndGlyphs">段</text></g>
<g fill="#fff"><text class="cj" x="2201.5" y="1532.42" font-size="14.44" textLength="10" lengthAdjust="spacingAndGlyphs">标</text></g>
<g fill="#fff"><text class="cj" x="2215" y="1532.42" font-size="14.44" textLength="10" lengthAdjust="spacingAndGlyphs">记</text></g>
<g fill="#fff"><text class="cj" x="2240.5" y="1532.42" font-size="14.44" textLength="10" lengthAdjust="spacingAndGlyphs">重</text></g>
<g fill="#fff"><text class="cj" x="2254" y="1532.42" font-size="14.44" textLength="10" lengthAdjust="spacingAndGlyphs">量</text></g>
<g fill="#fff"><text class="cj" x="2273.5" y="1532.42" font-size="14.44" textLength="10" lengthAdjust="spacingAndGlyphs">比</text></g>
<g fill="#fff"><text class="cj" x="2287" y="1532.42" font-size="14.44" textLength="10" lengthAdjust="spacingAndGlyphs">例</text></g>
<g fill="#fff"><text class="cj" x="2193.5" y="1583.42" font-size="14.44" textLength="10" lengthAdjust="spacingAndGlyphs">共</text></g>
<g fill="#fff"><text class="cj" x="2213" y="1583.42" font-size="14.44" textLength="10" lengthAdjust="spacingAndGlyphs">张</text></g>
<g fill="#fff"><text class="cj" x="2242.5" y="1583.42" font-size="14.44" textLength="10" lengthAdjust="spacingAndGlyphs">第</text></g>
<g fill="#fff"><text class="cj" x="2261.5" y="1583.42" font-size="14.44" textLength="10" lengthAdjust="spacingAndGlyphs">张</text></g>
<text class="th2" fill="#fff" font-size="10.5" text-anchor="middle" transform="translate(47 1627) scale(0.85 1)">A1</text>
</svg>
</body></html>
